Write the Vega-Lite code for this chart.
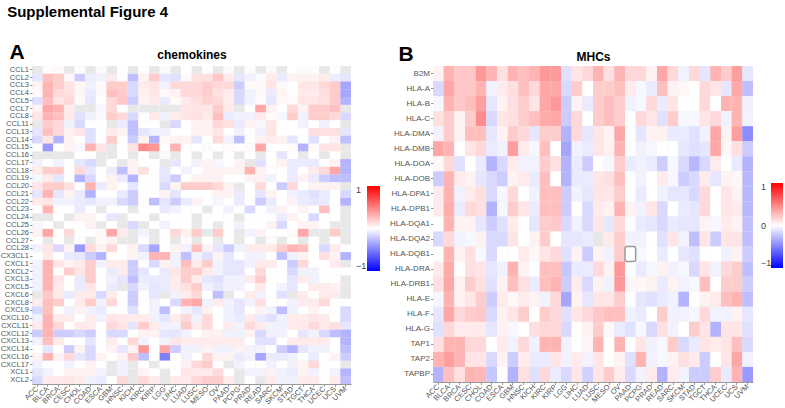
{
"$schema": "https://vega.github.io/schema/vega-lite/v6.json",
"background": "white",
"padding": {"left": 0, "top": 5, "right": 0, "bottom": 0},
"title": {"text": "Supplemental Figure 4", "anchor": "start", "frame": "bounds", "fontSize": 15, "font": "Liberation Sans", "fontWeight": "bold", "color": "#000", "offset": 21, "dx": 7},
"bounds": "flush",
"spacing": 82,
"datasets": {
"chem": [
{"g":"CCL1","t":"ACC","v":null},{"g":"CCL1","t":"BLCA","v":0.01},{"g":"CCL1","t":"BRCA","v":0.02},{"g":"CCL1","t":"CESC","v":null},{"g":"CCL1","t":"CHOL","v":0.01},{"g":"CCL1","t":"COAD","v":null},{"g":"CCL1","t":"ESCA","v":0.02},{"g":"CCL1","t":"GBM","v":null},{"g":"CCL1","t":"HNSC","v":0},{"g":"CCL1","t":"KICH","v":null},{"g":"CCL1","t":"KIRC","v":0.01},{"g":"CCL1","t":"KIRP","v":null},{"g":"CCL1","t":"LGG","v":0.02},{"g":"CCL1","t":"LIHC","v":null},{"g":"CCL1","t":"LUAD","v":0},{"g":"CCL1","t":"LUSC","v":null},{"g":"CCL1","t":"MESO","v":0.01},{"g":"CCL1","t":"OV","v":null},{"g":"CCL1","t":"PAAD","v":0.02},{"g":"CCL1","t":"PCPG","v":null},{"g":"CCL1","t":"PRAD","v":0.01},{"g":"CCL1","t":"READ","v":null},{"g":"CCL1","t":"SARC","v":0.02},{"g":"CCL1","t":"SKCM","v":null},{"g":"CCL1","t":"STAD","v":0},{"g":"CCL1","t":"TGCT","v":0.02},{"g":"CCL1","t":"THCA","v":0.01},{"g":"CCL1","t":"UCEC","v":null},{"g":"CCL1","t":"UCS","v":0.01},{"g":"CCL1","t":"UVM","v":null},
{"g":"CCL2","t":"ACC","v":-0.1},{"g":"CCL2","t":"BLCA","v":0.25},{"g":"CCL2","t":"BRCA","v":0.2},{"g":"CCL2","t":"CESC","v":0.03},{"g":"CCL2","t":"CHOL","v":-0.2},{"g":"CCL2","t":"COAD","v":-0.07},{"g":"CCL2","t":"ESCA","v":-0.05},{"g":"CCL2","t":"GBM","v":0.08},{"g":"CCL2","t":"HNSC","v":0},{"g":"CCL2","t":"KICH","v":-0.25},{"g":"CCL2","t":"KIRC","v":0.05},{"g":"CCL2","t":"KIRP","v":0.2},{"g":"CCL2","t":"LGG","v":-0.1},{"g":"CCL2","t":"LIHC","v":-0.12},{"g":"CCL2","t":"LUAD","v":0.02},{"g":"CCL2","t":"LUSC","v":0.12},{"g":"CCL2","t":"MESO","v":0.12},{"g":"CCL2","t":"OV","v":0.22},{"g":"CCL2","t":"PAAD","v":0.08},{"g":"CCL2","t":"PCPG","v":-0.1},{"g":"CCL2","t":"PRAD","v":-0.05},{"g":"CCL2","t":"READ","v":-0.02},{"g":"CCL2","t":"SARC","v":0.08},{"g":"CCL2","t":"SKCM","v":-0.08},{"g":"CCL2","t":"STAD","v":0.05},{"g":"CCL2","t":"TGCT","v":0.05},{"g":"CCL2","t":"THCA","v":0.05},{"g":"CCL2","t":"UCEC","v":0.08},{"g":"CCL2","t":"UCS","v":-0.07},{"g":"CCL2","t":"UVM","v":-0.1},
{"g":"CCL3","t":"ACC","v":0.05},{"g":"CCL3","t":"BLCA","v":0.3},{"g":"CCL3","t":"BRCA","v":0.2},{"g":"CCL3","t":"CESC","v":0.1},{"g":"CCL3","t":"CHOL","v":0.03},{"g":"CCL3","t":"COAD","v":-0.05},{"g":"CCL3","t":"ESCA","v":0.02},{"g":"CCL3","t":"GBM","v":0.2},{"g":"CCL3","t":"HNSC","v":0.2},{"g":"CCL3","t":"KICH","v":-0.15},{"g":"CCL3","t":"KIRC","v":0.08},{"g":"CCL3","t":"KIRP","v":0.1},{"g":"CCL3","t":"LGG","v":-0.05},{"g":"CCL3","t":"LIHC","v":0.15},{"g":"CCL3","t":"LUAD","v":0.15},{"g":"CCL3","t":"LUSC","v":0.15},{"g":"CCL3","t":"MESO","v":0.2},{"g":"CCL3","t":"OV","v":0.15},{"g":"CCL3","t":"PAAD","v":0.15},{"g":"CCL3","t":"PCPG","v":-0.2},{"g":"CCL3","t":"PRAD","v":0.02},{"g":"CCL3","t":"READ","v":0.02},{"g":"CCL3","t":"SARC","v":0.1},{"g":"CCL3","t":"SKCM","v":0.02},{"g":"CCL3","t":"STAD","v":0},{"g":"CCL3","t":"TGCT","v":0.1},{"g":"CCL3","t":"THCA","v":0.1},{"g":"CCL3","t":"UCEC","v":0.15},{"g":"CCL3","t":"UCS","v":0.2},{"g":"CCL3","t":"UVM","v":-0.35},
{"g":"CCL4","t":"ACC","v":0.02},{"g":"CCL4","t":"BLCA","v":0.3},{"g":"CCL4","t":"BRCA","v":0.15},{"g":"CCL4","t":"CESC","v":0.12},{"g":"CCL4","t":"CHOL","v":0.03},{"g":"CCL4","t":"COAD","v":-0.08},{"g":"CCL4","t":"ESCA","v":0.02},{"g":"CCL4","t":"GBM","v":0.25},{"g":"CCL4","t":"HNSC","v":0.2},{"g":"CCL4","t":"KICH","v":-0.15},{"g":"CCL4","t":"KIRC","v":0.05},{"g":"CCL4","t":"KIRP","v":0.1},{"g":"CCL4","t":"LGG","v":0.02},{"g":"CCL4","t":"LIHC","v":0.05},{"g":"CCL4","t":"LUAD","v":0.15},{"g":"CCL4","t":"LUSC","v":0.15},{"g":"CCL4","t":"MESO","v":0.2},{"g":"CCL4","t":"OV","v":0.12},{"g":"CCL4","t":"PAAD","v":0.08},{"g":"CCL4","t":"PCPG","v":-0.15},{"g":"CCL4","t":"PRAD","v":-0.05},{"g":"CCL4","t":"READ","v":0.02},{"g":"CCL4","t":"SARC","v":-0.08},{"g":"CCL4","t":"SKCM","v":0.05},{"g":"CCL4","t":"STAD","v":0},{"g":"CCL4","t":"TGCT","v":0.08},{"g":"CCL4","t":"THCA","v":0.08},{"g":"CCL4","t":"UCEC","v":0.12},{"g":"CCL4","t":"UCS","v":0.2},{"g":"CCL4","t":"UVM","v":-0.35},
{"g":"CCL5","t":"ACC","v":-0.12},{"g":"CCL5","t":"BLCA","v":0.25},{"g":"CCL5","t":"BRCA","v":0.1},{"g":"CCL5","t":"CESC","v":0.15},{"g":"CCL5","t":"CHOL","v":0.02},{"g":"CCL5","t":"COAD","v":-0.1},{"g":"CCL5","t":"ESCA","v":0},{"g":"CCL5","t":"GBM","v":0.15},{"g":"CCL5","t":"HNSC","v":0.22},{"g":"CCL5","t":"KICH","v":-0.2},{"g":"CCL5","t":"KIRC","v":0.05},{"g":"CCL5","t":"KIRP","v":0.08},{"g":"CCL5","t":"LGG","v":-0.08},{"g":"CCL5","t":"LIHC","v":0.02},{"g":"CCL5","t":"LUAD","v":0.08},{"g":"CCL5","t":"LUSC","v":0.12},{"g":"CCL5","t":"MESO","v":0.18},{"g":"CCL5","t":"OV","v":0.15},{"g":"CCL5","t":"PAAD","v":0.08},{"g":"CCL5","t":"PCPG","v":-0.15},{"g":"CCL5","t":"PRAD","v":-0.05},{"g":"CCL5","t":"READ","v":0.02},{"g":"CCL5","t":"SARC","v":-0.1},{"g":"CCL5","t":"SKCM","v":0.02},{"g":"CCL5","t":"STAD","v":0.02},{"g":"CCL5","t":"TGCT","v":0.1},{"g":"CCL5","t":"THCA","v":0.1},{"g":"CCL5","t":"UCEC","v":0.12},{"g":"CCL5","t":"UCS","v":0.2},{"g":"CCL5","t":"UVM","v":-0.3},
{"g":"CCL7","t":"ACC","v":0.05},{"g":"CCL7","t":"BLCA","v":0.35},{"g":"CCL7","t":"BRCA","v":0.3},{"g":"CCL7","t":"CESC","v":0.08},{"g":"CCL7","t":"CHOL","v":null},{"g":"CCL7","t":"COAD","v":null},{"g":"CCL7","t":"ESCA","v":-0.03},{"g":"CCL7","t":"GBM","v":0.15},{"g":"CCL7","t":"HNSC","v":0},{"g":"CCL7","t":"KICH","v":null},{"g":"CCL7","t":"KIRC","v":null},{"g":"CCL7","t":"KIRP","v":null},{"g":"CCL7","t":"LGG","v":null},{"g":"CCL7","t":"LIHC","v":null},{"g":"CCL7","t":"LUAD","v":0.1},{"g":"CCL7","t":"LUSC","v":0.1},{"g":"CCL7","t":"MESO","v":0.1},{"g":"CCL7","t":"OV","v":0.2},{"g":"CCL7","t":"PAAD","v":0.08},{"g":"CCL7","t":"PCPG","v":null},{"g":"CCL7","t":"PRAD","v":0},{"g":"CCL7","t":"READ","v":0.35},{"g":"CCL7","t":"SARC","v":0.05},{"g":"CCL7","t":"SKCM","v":0},{"g":"CCL7","t":"STAD","v":0.15},{"g":"CCL7","t":"TGCT","v":0.05},{"g":"CCL7","t":"THCA","v":0.2},{"g":"CCL7","t":"UCEC","v":0.2},{"g":"CCL7","t":"UCS","v":0.25},{"g":"CCL7","t":"UVM","v":null},
{"g":"CCL8","t":"ACC","v":0.1},{"g":"CCL8","t":"BLCA","v":0.3},{"g":"CCL8","t":"BRCA","v":0.25},{"g":"CCL8","t":"CESC","v":0.08},{"g":"CCL8","t":"CHOL","v":-0.12},{"g":"CCL8","t":"COAD","v":-0.05},{"g":"CCL8","t":"ESCA","v":-0.02},{"g":"CCL8","t":"GBM","v":0.2},{"g":"CCL8","t":"HNSC","v":0.15},{"g":"CCL8","t":"KICH","v":-0.15},{"g":"CCL8","t":"KIRC","v":0},{"g":"CCL8","t":"KIRP","v":0.08},{"g":"CCL8","t":"LGG","v":-0.05},{"g":"CCL8","t":"LIHC","v":0.08},{"g":"CCL8","t":"LUAD","v":0.1},{"g":"CCL8","t":"LUSC","v":0.12},{"g":"CCL8","t":"MESO","v":0.08},{"g":"CCL8","t":"OV","v":0.25},{"g":"CCL8","t":"PAAD","v":-0.08},{"g":"CCL8","t":"PCPG","v":-0.05},{"g":"CCL8","t":"PRAD","v":-0.05},{"g":"CCL8","t":"READ","v":0.08},{"g":"CCL8","t":"SARC","v":0.02},{"g":"CCL8","t":"SKCM","v":-0.03},{"g":"CCL8","t":"STAD","v":0.2},{"g":"CCL8","t":"TGCT","v":-0.05},{"g":"CCL8","t":"THCA","v":0.2},{"g":"CCL8","t":"UCEC","v":0.2},{"g":"CCL8","t":"UCS","v":0.15},{"g":"CCL8","t":"UVM","v":-0.15},
{"g":"CCL11","t":"ACC","v":null},{"g":"CCL11","t":"BLCA","v":0.2},{"g":"CCL11","t":"BRCA","v":0.15},{"g":"CCL11","t":"CESC","v":-0.05},{"g":"CCL11","t":"CHOL","v":-0.15},{"g":"CCL11","t":"COAD","v":0},{"g":"CCL11","t":"ESCA","v":0},{"g":"CCL11","t":"GBM","v":null},{"g":"CCL11","t":"HNSC","v":-0.08},{"g":"CCL11","t":"KICH","v":-0.25},{"g":"CCL11","t":"KIRC","v":0},{"g":"CCL11","t":"KIRP","v":0},{"g":"CCL11","t":"LGG","v":null},{"g":"CCL11","t":"LIHC","v":-0.15},{"g":"CCL11","t":"LUAD","v":0},{"g":"CCL11","t":"LUSC","v":0.05},{"g":"CCL11","t":"MESO","v":0.05},{"g":"CCL11","t":"OV","v":0.15},{"g":"CCL11","t":"PAAD","v":0.12},{"g":"CCL11","t":"PCPG","v":-0.08},{"g":"CCL11","t":"PRAD","v":0.05},{"g":"CCL11","t":"READ","v":-0.03},{"g":"CCL11","t":"SARC","v":0.1},{"g":"CCL11","t":"SKCM","v":0},{"g":"CCL11","t":"STAD","v":0},{"g":"CCL11","t":"TGCT","v":-0.05},{"g":"CCL11","t":"THCA","v":0},{"g":"CCL11","t":"UCEC","v":-0.05},{"g":"CCL11","t":"UCS","v":0},{"g":"CCL11","t":"UVM","v":null},
{"g":"CCL13","t":"ACC","v":-0.1},{"g":"CCL13","t":"BLCA","v":0.25},{"g":"CCL13","t":"BRCA","v":0.15},{"g":"CCL13","t":"CESC","v":0.05},{"g":"CCL13","t":"CHOL","v":0.1},{"g":"CCL13","t":"COAD","v":-0.12},{"g":"CCL13","t":"ESCA","v":0},{"g":"CCL13","t":"GBM","v":0.08},{"g":"CCL13","t":"HNSC","v":0.05},{"g":"CCL13","t":"KICH","v":-0.25},{"g":"CCL13","t":"KIRC","v":-0.1},{"g":"CCL13","t":"KIRP","v":-0.05},{"g":"CCL13","t":"LGG","v":-0.05},{"g":"CCL13","t":"LIHC","v":0},{"g":"CCL13","t":"LUAD","v":0},{"g":"CCL13","t":"LUSC","v":0.05},{"g":"CCL13","t":"MESO","v":0.05},{"g":"CCL13","t":"OV","v":0.1},{"g":"CCL13","t":"PAAD","v":0},{"g":"CCL13","t":"PCPG","v":-0.05},{"g":"CCL13","t":"PRAD","v":0},{"g":"CCL13","t":"READ","v":-0.05},{"g":"CCL13","t":"SARC","v":0.1},{"g":"CCL13","t":"SKCM","v":0},{"g":"CCL13","t":"STAD","v":0},{"g":"CCL13","t":"TGCT","v":0},{"g":"CCL13","t":"THCA","v":0.12},{"g":"CCL13","t":"UCEC","v":0.12},{"g":"CCL13","t":"UCS","v":0.12},{"g":"CCL13","t":"UVM","v":-0.1},
{"g":"CCL14","t":"ACC","v":-0.15},{"g":"CCL14","t":"BLCA","v":0.1},{"g":"CCL14","t":"BRCA","v":-0.3},{"g":"CCL14","t":"CESC","v":0.05},{"g":"CCL14","t":"CHOL","v":0},{"g":"CCL14","t":"COAD","v":-0.12},{"g":"CCL14","t":"ESCA","v":0},{"g":"CCL14","t":"GBM","v":0.2},{"g":"CCL14","t":"HNSC","v":0},{"g":"CCL14","t":"KICH","v":-0.2},{"g":"CCL14","t":"KIRC","v":0.05},{"g":"CCL14","t":"KIRP","v":-0.3},{"g":"CCL14","t":"LGG","v":0.02},{"g":"CCL14","t":"LIHC","v":0.05},{"g":"CCL14","t":"LUAD","v":0.05},{"g":"CCL14","t":"LUSC","v":-0.1},{"g":"CCL14","t":"MESO","v":0},{"g":"CCL14","t":"OV","v":0.15},{"g":"CCL14","t":"PAAD","v":-0.05},{"g":"CCL14","t":"PCPG","v":-0.25},{"g":"CCL14","t":"PRAD","v":0},{"g":"CCL14","t":"READ","v":0.05},{"g":"CCL14","t":"SARC","v":0.08},{"g":"CCL14","t":"SKCM","v":0.05},{"g":"CCL14","t":"STAD","v":-0.1},{"g":"CCL14","t":"TGCT","v":0},{"g":"CCL14","t":"THCA","v":-0.12},{"g":"CCL14","t":"UCEC","v":0},{"g":"CCL14","t":"UCS","v":0.05},{"g":"CCL14","t":"UVM","v":-0.25},
{"g":"CCL15","t":"ACC","v":0},{"g":"CCL15","t":"BLCA","v":-0.4},{"g":"CCL15","t":"BRCA","v":0},{"g":"CCL15","t":"CESC","v":0.05},{"g":"CCL15","t":"CHOL","v":-0.03},{"g":"CCL15","t":"COAD","v":0.3},{"g":"CCL15","t":"ESCA","v":0.1},{"g":"CCL15","t":"GBM","v":null},{"g":"CCL15","t":"HNSC","v":0},{"g":"CCL15","t":"KICH","v":0.1},{"g":"CCL15","t":"KIRC","v":0.45},{"g":"CCL15","t":"KIRP","v":0.4},{"g":"CCL15","t":"LGG","v":0},{"g":"CCL15","t":"LIHC","v":0.3},{"g":"CCL15","t":"LUAD","v":0},{"g":"CCL15","t":"LUSC","v":0},{"g":"CCL15","t":"MESO","v":0.02},{"g":"CCL15","t":"OV","v":0},{"g":"CCL15","t":"PAAD","v":0.02},{"g":"CCL15","t":"PCPG","v":0},{"g":"CCL15","t":"PRAD","v":0.02},{"g":"CCL15","t":"READ","v":0.35},{"g":"CCL15","t":"SARC","v":0},{"g":"CCL15","t":"SKCM","v":0},{"g":"CCL15","t":"STAD","v":0.02},{"g":"CCL15","t":"TGCT","v":-0.3},{"g":"CCL15","t":"THCA","v":0.02},{"g":"CCL15","t":"UCEC","v":0.1},{"g":"CCL15","t":"UCS","v":0.1},{"g":"CCL15","t":"UVM","v":null},
{"g":"CCL16","t":"ACC","v":null},{"g":"CCL16","t":"BLCA","v":null},{"g":"CCL16","t":"BRCA","v":null},{"g":"CCL16","t":"CESC","v":null},{"g":"CCL16","t":"CHOL","v":0},{"g":"CCL16","t":"COAD","v":0},{"g":"CCL16","t":"ESCA","v":null},{"g":"CCL16","t":"GBM","v":null},{"g":"CCL16","t":"HNSC","v":0},{"g":"CCL16","t":"KICH","v":null},{"g":"CCL16","t":"KIRC","v":0},{"g":"CCL16","t":"KIRP","v":null},{"g":"CCL16","t":"LGG","v":0.02},{"g":"CCL16","t":"LIHC","v":null},{"g":"CCL16","t":"LUAD","v":0},{"g":"CCL16","t":"LUSC","v":null},{"g":"CCL16","t":"MESO","v":0},{"g":"CCL16","t":"OV","v":null},{"g":"CCL16","t":"PAAD","v":0},{"g":"CCL16","t":"PCPG","v":null},{"g":"CCL16","t":"PRAD","v":0},{"g":"CCL16","t":"READ","v":null},{"g":"CCL16","t":"SARC","v":0},{"g":"CCL16","t":"SKCM","v":-0.1},{"g":"CCL16","t":"STAD","v":0},{"g":"CCL16","t":"TGCT","v":null},{"g":"CCL16","t":"THCA","v":0},{"g":"CCL16","t":"UCEC","v":null},{"g":"CCL16","t":"UCS","v":0},{"g":"CCL16","t":"UVM","v":null},
{"g":"CCL17","t":"ACC","v":-0.05},{"g":"CCL17","t":"BLCA","v":0},{"g":"CCL17","t":"BRCA","v":-0.05},{"g":"CCL17","t":"CESC","v":0},{"g":"CCL17","t":"CHOL","v":-0.1},{"g":"CCL17","t":"COAD","v":-0.15},{"g":"CCL17","t":"ESCA","v":null},{"g":"CCL17","t":"GBM","v":0},{"g":"CCL17","t":"HNSC","v":null},{"g":"CCL17","t":"KICH","v":0.05},{"g":"CCL17","t":"KIRC","v":0},{"g":"CCL17","t":"KIRP","v":0},{"g":"CCL17","t":"LGG","v":null},{"g":"CCL17","t":"LIHC","v":-0.1},{"g":"CCL17","t":"LUAD","v":0},{"g":"CCL17","t":"LUSC","v":-0.05},{"g":"CCL17","t":"MESO","v":0.05},{"g":"CCL17","t":"OV","v":-0.03},{"g":"CCL17","t":"PAAD","v":0},{"g":"CCL17","t":"PCPG","v":0.05},{"g":"CCL17","t":"PRAD","v":null},{"g":"CCL17","t":"READ","v":-0.12},{"g":"CCL17","t":"SARC","v":0},{"g":"CCL17","t":"SKCM","v":0.05},{"g":"CCL17","t":"STAD","v":-0.08},{"g":"CCL17","t":"TGCT","v":-0.08},{"g":"CCL17","t":"THCA","v":-0.08},{"g":"CCL17","t":"UCEC","v":0},{"g":"CCL17","t":"UCS","v":0.05},{"g":"CCL17","t":"UVM","v":-0.3},
{"g":"CCL18","t":"ACC","v":0.08},{"g":"CCL18","t":"BLCA","v":0.2},{"g":"CCL18","t":"BRCA","v":0.2},{"g":"CCL18","t":"CESC","v":0},{"g":"CCL18","t":"CHOL","v":0.15},{"g":"CCL18","t":"COAD","v":-0.1},{"g":"CCL18","t":"ESCA","v":0},{"g":"CCL18","t":"GBM","v":-0.08},{"g":"CCL18","t":"HNSC","v":-0.25},{"g":"CCL18","t":"KICH","v":0.05},{"g":"CCL18","t":"KIRC","v":0.12},{"g":"CCL18","t":"KIRP","v":0},{"g":"CCL18","t":"LGG","v":-0.1},{"g":"CCL18","t":"LIHC","v":0},{"g":"CCL18","t":"LUAD","v":-0.05},{"g":"CCL18","t":"LUSC","v":0},{"g":"CCL18","t":"MESO","v":0.05},{"g":"CCL18","t":"OV","v":0.05},{"g":"CCL18","t":"PAAD","v":0.05},{"g":"CCL18","t":"PCPG","v":0.05},{"g":"CCL18","t":"PRAD","v":0.3},{"g":"CCL18","t":"READ","v":0.05},{"g":"CCL18","t":"SARC","v":0},{"g":"CCL18","t":"SKCM","v":0},{"g":"CCL18","t":"STAD","v":-0.08},{"g":"CCL18","t":"TGCT","v":0},{"g":"CCL18","t":"THCA","v":0.08},{"g":"CCL18","t":"UCEC","v":0.15},{"g":"CCL18","t":"UCS","v":0.35},{"g":"CCL18","t":"UVM","v":-0.3},
{"g":"CCL19","t":"ACC","v":-0.03},{"g":"CCL19","t":"BLCA","v":0.08},{"g":"CCL19","t":"BRCA","v":-0.1},{"g":"CCL19","t":"CESC","v":0},{"g":"CCL19","t":"CHOL","v":-0.3},{"g":"CCL19","t":"COAD","v":-0.15},{"g":"CCL19","t":"ESCA","v":0},{"g":"CCL19","t":"GBM","v":0.05},{"g":"CCL19","t":"HNSC","v":-0.08},{"g":"CCL19","t":"KICH","v":-0.3},{"g":"CCL19","t":"KIRC","v":0},{"g":"CCL19","t":"KIRP","v":0},{"g":"CCL19","t":"LGG","v":-0.1},{"g":"CCL19","t":"LIHC","v":-0.2},{"g":"CCL19","t":"LUAD","v":0},{"g":"CCL19","t":"LUSC","v":0.05},{"g":"CCL19","t":"MESO","v":0.05},{"g":"CCL19","t":"OV","v":0.05},{"g":"CCL19","t":"PAAD","v":0},{"g":"CCL19","t":"PCPG","v":0},{"g":"CCL19","t":"PRAD","v":0.05},{"g":"CCL19","t":"READ","v":0.05},{"g":"CCL19","t":"SARC","v":-0.05},{"g":"CCL19","t":"SKCM","v":0},{"g":"CCL19","t":"STAD","v":-0.08},{"g":"CCL19","t":"TGCT","v":0.05},{"g":"CCL19","t":"THCA","v":-0.08},{"g":"CCL19","t":"UCEC","v":-0.2},{"g":"CCL19","t":"UCS","v":-0.25},{"g":"CCL19","t":"UVM","v":-0.25},
{"g":"CCL20","t":"ACC","v":0.1},{"g":"CCL20","t":"BLCA","v":0.2},{"g":"CCL20","t":"BRCA","v":0.2},{"g":"CCL20","t":"CESC","v":0.12},{"g":"CCL20","t":"CHOL","v":0},{"g":"CCL20","t":"COAD","v":0.3},{"g":"CCL20","t":"ESCA","v":-0.08},{"g":"CCL20","t":"GBM","v":0.05},{"g":"CCL20","t":"HNSC","v":0},{"g":"CCL20","t":"KICH","v":-0.1},{"g":"CCL20","t":"KIRC","v":0},{"g":"CCL20","t":"KIRP","v":0},{"g":"CCL20","t":"LGG","v":-0.15},{"g":"CCL20","t":"LIHC","v":0.05},{"g":"CCL20","t":"LUAD","v":0.2},{"g":"CCL20","t":"LUSC","v":0.2},{"g":"CCL20","t":"MESO","v":0.2},{"g":"CCL20","t":"OV","v":0.15},{"g":"CCL20","t":"PAAD","v":0.05},{"g":"CCL20","t":"PCPG","v":null},{"g":"CCL20","t":"PRAD","v":0},{"g":"CCL20","t":"READ","v":0.15},{"g":"CCL20","t":"SARC","v":0},{"g":"CCL20","t":"SKCM","v":-0.2},{"g":"CCL20","t":"STAD","v":0.15},{"g":"CCL20","t":"TGCT","v":0},{"g":"CCL20","t":"THCA","v":0.05},{"g":"CCL20","t":"UCEC","v":0.05},{"g":"CCL20","t":"UCS","v":0.05},{"g":"CCL20","t":"UVM","v":null},
{"g":"CCL21","t":"ACC","v":-0.1},{"g":"CCL21","t":"BLCA","v":0.3},{"g":"CCL21","t":"BRCA","v":-0.1},{"g":"CCL21","t":"CESC","v":0.05},{"g":"CCL21","t":"CHOL","v":-0.08},{"g":"CCL21","t":"COAD","v":-0.3},{"g":"CCL21","t":"ESCA","v":0},{"g":"CCL21","t":"GBM","v":0},{"g":"CCL21","t":"HNSC","v":-0.08},{"g":"CCL21","t":"KICH","v":-0.2},{"g":"CCL21","t":"KIRC","v":0},{"g":"CCL21","t":"KIRP","v":0},{"g":"CCL21","t":"LGG","v":0.05},{"g":"CCL21","t":"LIHC","v":-0.1},{"g":"CCL21","t":"LUAD","v":0},{"g":"CCL21","t":"LUSC","v":0},{"g":"CCL21","t":"MESO","v":0},{"g":"CCL21","t":"OV","v":0.05},{"g":"CCL21","t":"PAAD","v":0.05},{"g":"CCL21","t":"PCPG","v":-0.08},{"g":"CCL21","t":"PRAD","v":0},{"g":"CCL21","t":"READ","v":-0.1},{"g":"CCL21","t":"SARC","v":0.05},{"g":"CCL21","t":"SKCM","v":0},{"g":"CCL21","t":"STAD","v":-0.05},{"g":"CCL21","t":"TGCT","v":-0.08},{"g":"CCL21","t":"THCA","v":-0.12},{"g":"CCL21","t":"UCEC","v":-0.08},{"g":"CCL21","t":"UCS","v":0},{"g":"CCL21","t":"UVM","v":-0.15},
{"g":"CCL22","t":"ACC","v":0.08},{"g":"CCL22","t":"BLCA","v":0.1},{"g":"CCL22","t":"BRCA","v":-0.05},{"g":"CCL22","t":"CESC","v":-0.05},{"g":"CCL22","t":"CHOL","v":-0.08},{"g":"CCL22","t":"COAD","v":-0.1},{"g":"CCL22","t":"ESCA","v":-0.05},{"g":"CCL22","t":"GBM","v":-0.05},{"g":"CCL22","t":"HNSC","v":-0.15},{"g":"CCL22","t":"KICH","v":-0.2},{"g":"CCL22","t":"KIRC","v":0},{"g":"CCL22","t":"KIRP","v":-0.25},{"g":"CCL22","t":"LGG","v":-0.1},{"g":"CCL22","t":"LIHC","v":-0.2},{"g":"CCL22","t":"LUAD","v":-0.08},{"g":"CCL22","t":"LUSC","v":0.05},{"g":"CCL22","t":"MESO","v":0},{"g":"CCL22","t":"OV","v":-0.03},{"g":"CCL22","t":"PAAD","v":0},{"g":"CCL22","t":"PCPG","v":-0.08},{"g":"CCL22","t":"PRAD","v":0},{"g":"CCL22","t":"READ","v":-0.2},{"g":"CCL22","t":"SARC","v":-0.08},{"g":"CCL22","t":"SKCM","v":0},{"g":"CCL22","t":"STAD","v":0.05},{"g":"CCL22","t":"TGCT","v":-0.08},{"g":"CCL22","t":"THCA","v":-0.1},{"g":"CCL22","t":"UCEC","v":-0.08},{"g":"CCL22","t":"UCS","v":0},{"g":"CCL22","t":"UVM","v":-0.3},
{"g":"CCL23","t":"ACC","v":0},{"g":"CCL23","t":"BLCA","v":0.3},{"g":"CCL23","t":"BRCA","v":0},{"g":"CCL23","t":"CESC","v":0},{"g":"CCL23","t":"CHOL","v":-0.08},{"g":"CCL23","t":"COAD","v":0},{"g":"CCL23","t":"ESCA","v":null},{"g":"CCL23","t":"GBM","v":0},{"g":"CCL23","t":"HNSC","v":0},{"g":"CCL23","t":"KICH","v":null},{"g":"CCL23","t":"KIRC","v":0},{"g":"CCL23","t":"KIRP","v":0},{"g":"CCL23","t":"LGG","v":-0.08},{"g":"CCL23","t":"LIHC","v":-0.05},{"g":"CCL23","t":"LUAD","v":0},{"g":"CCL23","t":"LUSC","v":0},{"g":"CCL23","t":"MESO","v":null},{"g":"CCL23","t":"OV","v":0},{"g":"CCL23","t":"PAAD","v":-0.05},{"g":"CCL23","t":"PCPG","v":0},{"g":"CCL23","t":"PRAD","v":-0.15},{"g":"CCL23","t":"READ","v":0},{"g":"CCL23","t":"SARC","v":-0.05},{"g":"CCL23","t":"SKCM","v":0.05},{"g":"CCL23","t":"STAD","v":0},{"g":"CCL23","t":"TGCT","v":0.05},{"g":"CCL23","t":"THCA","v":0},{"g":"CCL23","t":"UCEC","v":0.25},{"g":"CCL23","t":"UCS","v":0},{"g":"CCL23","t":"UVM","v":null},
{"g":"CCL24","t":"ACC","v":null},{"g":"CCL24","t":"BLCA","v":null},{"g":"CCL24","t":"BRCA","v":0},{"g":"CCL24","t":"CESC","v":null},{"g":"CCL24","t":"CHOL","v":0.05},{"g":"CCL24","t":"COAD","v":0.05},{"g":"CCL24","t":"ESCA","v":0},{"g":"CCL24","t":"GBM","v":-0.1},{"g":"CCL24","t":"HNSC","v":null},{"g":"CCL24","t":"KICH","v":0},{"g":"CCL24","t":"KIRC","v":0},{"g":"CCL24","t":"KIRP","v":null},{"g":"CCL24","t":"LGG","v":0},{"g":"CCL24","t":"LIHC","v":0},{"g":"CCL24","t":"LUAD","v":0},{"g":"CCL24","t":"LUSC","v":null},{"g":"CCL24","t":"MESO","v":0},{"g":"CCL24","t":"OV","v":0},{"g":"CCL24","t":"PAAD","v":0},{"g":"CCL24","t":"PCPG","v":null},{"g":"CCL24","t":"PRAD","v":0},{"g":"CCL24","t":"READ","v":0},{"g":"CCL24","t":"SARC","v":0},{"g":"CCL24","t":"SKCM","v":-0.08},{"g":"CCL24","t":"STAD","v":0.05},{"g":"CCL24","t":"TGCT","v":0},{"g":"CCL24","t":"THCA","v":-0.15},{"g":"CCL24","t":"UCEC","v":0},{"g":"CCL24","t":"UCS","v":0},{"g":"CCL24","t":"UVM","v":null},
{"g":"CCL25","t":"ACC","v":-0.03},{"g":"CCL25","t":"BLCA","v":0},{"g":"CCL25","t":"BRCA","v":null},{"g":"CCL25","t":"CESC","v":0},{"g":"CCL25","t":"CHOL","v":0},{"g":"CCL25","t":"COAD","v":0.05},{"g":"CCL25","t":"ESCA","v":null},{"g":"CCL25","t":"GBM","v":0},{"g":"CCL25","t":"HNSC","v":null},{"g":"CCL25","t":"KICH","v":-0.15},{"g":"CCL25","t":"KIRC","v":null},{"g":"CCL25","t":"KIRP","v":0},{"g":"CCL25","t":"LGG","v":-0.05},{"g":"CCL25","t":"LIHC","v":0},{"g":"CCL25","t":"LUAD","v":0},{"g":"CCL25","t":"LUSC","v":null},{"g":"CCL25","t":"MESO","v":0},{"g":"CCL25","t":"OV","v":null},{"g":"CCL25","t":"PAAD","v":0},{"g":"CCL25","t":"PCPG","v":-0.05},{"g":"CCL25","t":"PRAD","v":0},{"g":"CCL25","t":"READ","v":0},{"g":"CCL25","t":"SARC","v":0.05},{"g":"CCL25","t":"SKCM","v":-0.15},{"g":"CCL25","t":"STAD","v":0},{"g":"CCL25","t":"TGCT","v":0.05},{"g":"CCL25","t":"THCA","v":0.05},{"g":"CCL25","t":"UCEC","v":0},{"g":"CCL25","t":"UCS","v":null},{"g":"CCL25","t":"UVM","v":null},
{"g":"CCL26","t":"ACC","v":0.05},{"g":"CCL26","t":"BLCA","v":0.35},{"g":"CCL26","t":"BRCA","v":0},{"g":"CCL26","t":"CESC","v":0.15},{"g":"CCL26","t":"CHOL","v":0},{"g":"CCL26","t":"COAD","v":0},{"g":"CCL26","t":"ESCA","v":0.02},{"g":"CCL26","t":"GBM","v":0.35},{"g":"CCL26","t":"HNSC","v":0.08},{"g":"CCL26","t":"KICH","v":null},{"g":"CCL26","t":"KIRC","v":-0.05},{"g":"CCL26","t":"KIRP","v":null},{"g":"CCL26","t":"LGG","v":0},{"g":"CCL26","t":"LIHC","v":0.15},{"g":"CCL26","t":"LUAD","v":0.05},{"g":"CCL26","t":"LUSC","v":0.2},{"g":"CCL26","t":"MESO","v":null},{"g":"CCL26","t":"OV","v":0.2},{"g":"CCL26","t":"PAAD","v":0},{"g":"CCL26","t":"PCPG","v":null},{"g":"CCL26","t":"PRAD","v":-0.05},{"g":"CCL26","t":"READ","v":0.05},{"g":"CCL26","t":"SARC","v":0},{"g":"CCL26","t":"SKCM","v":0},{"g":"CCL26","t":"STAD","v":0.02},{"g":"CCL26","t":"TGCT","v":0.35},{"g":"CCL26","t":"THCA","v":null},{"g":"CCL26","t":"UCEC","v":null},{"g":"CCL26","t":"UCS","v":0.2},{"g":"CCL26","t":"UVM","v":null},
{"g":"CCL27","t":"ACC","v":0},{"g":"CCL27","t":"BLCA","v":null},{"g":"CCL27","t":"BRCA","v":0},{"g":"CCL27","t":"CESC","v":null},{"g":"CCL27","t":"CHOL","v":0},{"g":"CCL27","t":"COAD","v":null},{"g":"CCL27","t":"ESCA","v":0.02},{"g":"CCL27","t":"GBM","v":0.05},{"g":"CCL27","t":"HNSC","v":null},{"g":"CCL27","t":"KICH","v":null},{"g":"CCL27","t":"KIRC","v":0},{"g":"CCL27","t":"KIRP","v":null},{"g":"CCL27","t":"LGG","v":0},{"g":"CCL27","t":"LIHC","v":null},{"g":"CCL27","t":"LUAD","v":0.02},{"g":"CCL27","t":"LUSC","v":null},{"g":"CCL27","t":"MESO","v":0},{"g":"CCL27","t":"OV","v":null},{"g":"CCL27","t":"PAAD","v":0},{"g":"CCL27","t":"PCPG","v":null},{"g":"CCL27","t":"PRAD","v":0},{"g":"CCL27","t":"READ","v":null},{"g":"CCL27","t":"SARC","v":0.02},{"g":"CCL27","t":"SKCM","v":null},{"g":"CCL27","t":"STAD","v":0},{"g":"CCL27","t":"TGCT","v":null},{"g":"CCL27","t":"THCA","v":0},{"g":"CCL27","t":"UCEC","v":null},{"g":"CCL27","t":"UCS","v":0},{"g":"CCL27","t":"UVM","v":null},
{"g":"CCL28","t":"ACC","v":-0.05},{"g":"CCL28","t":"BLCA","v":0.1},{"g":"CCL28","t":"BRCA","v":-0.15},{"g":"CCL28","t":"CESC","v":0.05},{"g":"CCL28","t":"CHOL","v":-0.4},{"g":"CCL28","t":"COAD","v":0.15},{"g":"CCL28","t":"ESCA","v":0.05},{"g":"CCL28","t":"GBM","v":0.15},{"g":"CCL28","t":"HNSC","v":0},{"g":"CCL28","t":"KICH","v":0.05},{"g":"CCL28","t":"KIRC","v":-0.15},{"g":"CCL28","t":"KIRP","v":-0.35},{"g":"CCL28","t":"LGG","v":0},{"g":"CCL28","t":"LIHC","v":0.05},{"g":"CCL28","t":"LUAD","v":-0.05},{"g":"CCL28","t":"LUSC","v":0.25},{"g":"CCL28","t":"MESO","v":0.05},{"g":"CCL28","t":"OV","v":-0.1},{"g":"CCL28","t":"PAAD","v":-0.2},{"g":"CCL28","t":"PCPG","v":-0.05},{"g":"CCL28","t":"PRAD","v":0.08},{"g":"CCL28","t":"READ","v":0.08},{"g":"CCL28","t":"SARC","v":0.08},{"g":"CCL28","t":"SKCM","v":0.2},{"g":"CCL28","t":"STAD","v":0.3},{"g":"CCL28","t":"TGCT","v":0.25},{"g":"CCL28","t":"THCA","v":0},{"g":"CCL28","t":"UCEC","v":-0.15},{"g":"CCL28","t":"UCS","v":0.08},{"g":"CCL28","t":"UVM","v":0},
{"g":"CX3CL1","t":"ACC","v":0},{"g":"CX3CL1","t":"BLCA","v":0.08},{"g":"CX3CL1","t":"BRCA","v":0},{"g":"CX3CL1","t":"CESC","v":-0.08},{"g":"CX3CL1","t":"CHOL","v":-0.1},{"g":"CX3CL1","t":"COAD","v":-0.2},{"g":"CX3CL1","t":"ESCA","v":-0.3},{"g":"CX3CL1","t":"GBM","v":0},{"g":"CX3CL1","t":"HNSC","v":0},{"g":"CX3CL1","t":"KICH","v":0.05},{"g":"CX3CL1","t":"KIRC","v":-0.05},{"g":"CX3CL1","t":"KIRP","v":0.3},{"g":"CX3CL1","t":"LGG","v":0.3},{"g":"CX3CL1","t":"LIHC","v":-0.05},{"g":"CX3CL1","t":"LUAD","v":-0.25},{"g":"CX3CL1","t":"LUSC","v":-0.05},{"g":"CX3CL1","t":"MESO","v":-0.12},{"g":"CX3CL1","t":"OV","v":0.05},{"g":"CX3CL1","t":"PAAD","v":-0.1},{"g":"CX3CL1","t":"PCPG","v":0},{"g":"CX3CL1","t":"PRAD","v":-0.05},{"g":"CX3CL1","t":"READ","v":-0.05},{"g":"CX3CL1","t":"SARC","v":0},{"g":"CX3CL1","t":"SKCM","v":-0.25},{"g":"CX3CL1","t":"STAD","v":-0.05},{"g":"CX3CL1","t":"TGCT","v":0.05},{"g":"CX3CL1","t":"THCA","v":0},{"g":"CX3CL1","t":"UCEC","v":0.12},{"g":"CX3CL1","t":"UCS","v":0.05},{"g":"CX3CL1","t":"UVM","v":-0.3},
{"g":"CXCL1","t":"ACC","v":-0.05},{"g":"CXCL1","t":"BLCA","v":0.3},{"g":"CXCL1","t":"BRCA","v":0.1},{"g":"CXCL1","t":"CESC","v":0.05},{"g":"CXCL1","t":"CHOL","v":0.08},{"g":"CXCL1","t":"COAD","v":0.2},{"g":"CXCL1","t":"ESCA","v":-0.05},{"g":"CXCL1","t":"GBM","v":0.08},{"g":"CXCL1","t":"HNSC","v":0.08},{"g":"CXCL1","t":"KICH","v":-0.2},{"g":"CXCL1","t":"KIRC","v":0},{"g":"CXCL1","t":"KIRP","v":-0.15},{"g":"CXCL1","t":"LGG","v":0.05},{"g":"CXCL1","t":"LIHC","v":-0.05},{"g":"CXCL1","t":"LUAD","v":0.25},{"g":"CXCL1","t":"LUSC","v":0.08},{"g":"CXCL1","t":"MESO","v":0.2},{"g":"CXCL1","t":"OV","v":-0.05},{"g":"CXCL1","t":"PAAD","v":-0.1},{"g":"CXCL1","t":"PCPG","v":-0.1},{"g":"CXCL1","t":"PRAD","v":-0.05},{"g":"CXCL1","t":"READ","v":0.08},{"g":"CXCL1","t":"SARC","v":0.08},{"g":"CXCL1","t":"SKCM","v":0},{"g":"CXCL1","t":"STAD","v":-0.2},{"g":"CXCL1","t":"TGCT","v":0.15},{"g":"CXCL1","t":"THCA","v":0},{"g":"CXCL1","t":"UCEC","v":0},{"g":"CXCL1","t":"UCS","v":0.08},{"g":"CXCL1","t":"UVM","v":null},
{"g":"CXCL2","t":"ACC","v":-0.05},{"g":"CXCL2","t":"BLCA","v":0.3},{"g":"CXCL2","t":"BRCA","v":0},{"g":"CXCL2","t":"CESC","v":0.2},{"g":"CXCL2","t":"CHOL","v":0.1},{"g":"CXCL2","t":"COAD","v":0.2},{"g":"CXCL2","t":"ESCA","v":0},{"g":"CXCL2","t":"GBM","v":-0.08},{"g":"CXCL2","t":"HNSC","v":0.08},{"g":"CXCL2","t":"KICH","v":-0.2},{"g":"CXCL2","t":"KIRC","v":-0.1},{"g":"CXCL2","t":"KIRP","v":0},{"g":"CXCL2","t":"LGG","v":-0.08},{"g":"CXCL2","t":"LIHC","v":0.1},{"g":"CXCL2","t":"LUAD","v":0.2},{"g":"CXCL2","t":"LUSC","v":0.2},{"g":"CXCL2","t":"MESO","v":0.08},{"g":"CXCL2","t":"OV","v":-0.05},{"g":"CXCL2","t":"PAAD","v":-0.1},{"g":"CXCL2","t":"PCPG","v":-0.1},{"g":"CXCL2","t":"PRAD","v":0},{"g":"CXCL2","t":"READ","v":0.15},{"g":"CXCL2","t":"SARC","v":0},{"g":"CXCL2","t":"SKCM","v":0},{"g":"CXCL2","t":"STAD","v":-0.15},{"g":"CXCL2","t":"TGCT","v":-0.05},{"g":"CXCL2","t":"THCA","v":-0.05},{"g":"CXCL2","t":"UCEC","v":0},{"g":"CXCL2","t":"UCS","v":0},{"g":"CXCL2","t":"UVM","v":0},
{"g":"CXCL3","t":"ACC","v":-0.05},{"g":"CXCL3","t":"BLCA","v":0.3},{"g":"CXCL3","t":"BRCA","v":0.1},{"g":"CXCL3","t":"CESC","v":0},{"g":"CXCL3","t":"CHOL","v":-0.08},{"g":"CXCL3","t":"COAD","v":0.2},{"g":"CXCL3","t":"ESCA","v":0},{"g":"CXCL3","t":"GBM","v":-0.05},{"g":"CXCL3","t":"HNSC","v":-0.1},{"g":"CXCL3","t":"KICH","v":-0.25},{"g":"CXCL3","t":"KIRC","v":-0.08},{"g":"CXCL3","t":"KIRP","v":-0.08},{"g":"CXCL3","t":"LGG","v":-0.08},{"g":"CXCL3","t":"LIHC","v":0.08},{"g":"CXCL3","t":"LUAD","v":0.2},{"g":"CXCL3","t":"LUSC","v":0.08},{"g":"CXCL3","t":"MESO","v":-0.1},{"g":"CXCL3","t":"OV","v":-0.12},{"g":"CXCL3","t":"PAAD","v":-0.05},{"g":"CXCL3","t":"PCPG","v":-0.05},{"g":"CXCL3","t":"PRAD","v":0.08},{"g":"CXCL3","t":"READ","v":0.2},{"g":"CXCL3","t":"SARC","v":0},{"g":"CXCL3","t":"SKCM","v":0},{"g":"CXCL3","t":"STAD","v":-0.1},{"g":"CXCL3","t":"TGCT","v":0.08},{"g":"CXCL3","t":"THCA","v":-0.05},{"g":"CXCL3","t":"UCEC","v":0},{"g":"CXCL3","t":"UCS","v":0},{"g":"CXCL3","t":"UVM","v":null},
{"g":"CXCL5","t":"ACC","v":-0.05},{"g":"CXCL5","t":"BLCA","v":0.3},{"g":"CXCL5","t":"BRCA","v":0.08},{"g":"CXCL5","t":"CESC","v":0},{"g":"CXCL5","t":"CHOL","v":-0.08},{"g":"CXCL5","t":"COAD","v":0.1},{"g":"CXCL5","t":"ESCA","v":0},{"g":"CXCL5","t":"GBM","v":-0.08},{"g":"CXCL5","t":"HNSC","v":null},{"g":"CXCL5","t":"KICH","v":-0.15},{"g":"CXCL5","t":"KIRC","v":-0.05},{"g":"CXCL5","t":"KIRP","v":-0.1},{"g":"CXCL5","t":"LGG","v":-0.08},{"g":"CXCL5","t":"LIHC","v":0.08},{"g":"CXCL5","t":"LUAD","v":0.12},{"g":"CXCL5","t":"LUSC","v":0.2},{"g":"CXCL5","t":"MESO","v":-0.05},{"g":"CXCL5","t":"OV","v":-0.1},{"g":"CXCL5","t":"PAAD","v":-0.05},{"g":"CXCL5","t":"PCPG","v":-0.05},{"g":"CXCL5","t":"PRAD","v":0},{"g":"CXCL5","t":"READ","v":0.08},{"g":"CXCL5","t":"SARC","v":0},{"g":"CXCL5","t":"SKCM","v":-0.05},{"g":"CXCL5","t":"STAD","v":-0.1},{"g":"CXCL5","t":"TGCT","v":0},{"g":"CXCL5","t":"THCA","v":0.08},{"g":"CXCL5","t":"UCEC","v":0.08},{"g":"CXCL5","t":"UCS","v":0.05},{"g":"CXCL5","t":"UVM","v":null},
{"g":"CXCL6","t":"ACC","v":null},{"g":"CXCL6","t":"BLCA","v":0.22},{"g":"CXCL6","t":"BRCA","v":0.08},{"g":"CXCL6","t":"CESC","v":-0.08},{"g":"CXCL6","t":"CHOL","v":0.08},{"g":"CXCL6","t":"COAD","v":0.08},{"g":"CXCL6","t":"ESCA","v":-0.15},{"g":"CXCL6","t":"GBM","v":0.08},{"g":"CXCL6","t":"HNSC","v":0},{"g":"CXCL6","t":"KICH","v":-0.2},{"g":"CXCL6","t":"KIRC","v":0},{"g":"CXCL6","t":"KIRP","v":-0.1},{"g":"CXCL6","t":"LGG","v":null},{"g":"CXCL6","t":"LIHC","v":-0.05},{"g":"CXCL6","t":"LUAD","v":0.08},{"g":"CXCL6","t":"LUSC","v":0.15},{"g":"CXCL6","t":"MESO","v":0},{"g":"CXCL6","t":"OV","v":-0.25},{"g":"CXCL6","t":"PAAD","v":null},{"g":"CXCL6","t":"PCPG","v":0},{"g":"CXCL6","t":"PRAD","v":0.08},{"g":"CXCL6","t":"READ","v":-0.05},{"g":"CXCL6","t":"SARC","v":0},{"g":"CXCL6","t":"SKCM","v":-0.12},{"g":"CXCL6","t":"STAD","v":null},{"g":"CXCL6","t":"TGCT","v":0.08},{"g":"CXCL6","t":"THCA","v":0},{"g":"CXCL6","t":"UCEC","v":0.08},{"g":"CXCL6","t":"UCS","v":0.08},{"g":"CXCL6","t":"UVM","v":null},
{"g":"CXCL8","t":"ACC","v":0.08},{"g":"CXCL8","t":"BLCA","v":0.25},{"g":"CXCL8","t":"BRCA","v":0.2},{"g":"CXCL8","t":"CESC","v":0},{"g":"CXCL8","t":"CHOL","v":0.08},{"g":"CXCL8","t":"COAD","v":0.2},{"g":"CXCL8","t":"ESCA","v":-0.05},{"g":"CXCL8","t":"GBM","v":0.15},{"g":"CXCL8","t":"HNSC","v":0},{"g":"CXCL8","t":"KICH","v":-0.2},{"g":"CXCL8","t":"KIRC","v":0},{"g":"CXCL8","t":"KIRP","v":-0.05},{"g":"CXCL8","t":"LGG","v":0},{"g":"CXCL8","t":"LIHC","v":-0.15},{"g":"CXCL8","t":"LUAD","v":0.3},{"g":"CXCL8","t":"LUSC","v":0.35},{"g":"CXCL8","t":"MESO","v":-0.05},{"g":"CXCL8","t":"OV","v":0.08},{"g":"CXCL8","t":"PAAD","v":-0.05},{"g":"CXCL8","t":"PCPG","v":-0.1},{"g":"CXCL8","t":"PRAD","v":-0.05},{"g":"CXCL8","t":"READ","v":0.12},{"g":"CXCL8","t":"SARC","v":0},{"g":"CXCL8","t":"SKCM","v":0},{"g":"CXCL8","t":"STAD","v":-0.05},{"g":"CXCL8","t":"TGCT","v":0.08},{"g":"CXCL8","t":"THCA","v":0.08},{"g":"CXCL8","t":"UCEC","v":0.15},{"g":"CXCL8","t":"UCS","v":0},{"g":"CXCL8","t":"UVM","v":0},
{"g":"CXCL9","t":"ACC","v":-0.15},{"g":"CXCL9","t":"BLCA","v":0.25},{"g":"CXCL9","t":"BRCA","v":0},{"g":"CXCL9","t":"CESC","v":-0.05},{"g":"CXCL9","t":"CHOL","v":0.05},{"g":"CXCL9","t":"COAD","v":-0.05},{"g":"CXCL9","t":"ESCA","v":-0.08},{"g":"CXCL9","t":"GBM","v":0},{"g":"CXCL9","t":"HNSC","v":0},{"g":"CXCL9","t":"KICH","v":-0.12},{"g":"CXCL9","t":"KIRC","v":0},{"g":"CXCL9","t":"KIRP","v":-0.05},{"g":"CXCL9","t":"LGG","v":-0.25},{"g":"CXCL9","t":"LIHC","v":0},{"g":"CXCL9","t":"LUAD","v":-0.05},{"g":"CXCL9","t":"LUSC","v":-0.1},{"g":"CXCL9","t":"MESO","v":0.05},{"g":"CXCL9","t":"OV","v":0},{"g":"CXCL9","t":"PAAD","v":-0.05},{"g":"CXCL9","t":"PCPG","v":-0.1},{"g":"CXCL9","t":"PRAD","v":0},{"g":"CXCL9","t":"READ","v":0.05},{"g":"CXCL9","t":"SARC","v":-0.05},{"g":"CXCL9","t":"SKCM","v":-0.25},{"g":"CXCL9","t":"STAD","v":-0.05},{"g":"CXCL9","t":"TGCT","v":0},{"g":"CXCL9","t":"THCA","v":0.05},{"g":"CXCL9","t":"UCEC","v":0},{"g":"CXCL9","t":"UCS","v":0},{"g":"CXCL9","t":"UVM","v":-0.15},
{"g":"CXCL10","t":"ACC","v":-0.05},{"g":"CXCL10","t":"BLCA","v":0.3},{"g":"CXCL10","t":"BRCA","v":0.08},{"g":"CXCL10","t":"CESC","v":0.08},{"g":"CXCL10","t":"CHOL","v":0},{"g":"CXCL10","t":"COAD","v":0.08},{"g":"CXCL10","t":"ESCA","v":-0.05},{"g":"CXCL10","t":"GBM","v":0.1},{"g":"CXCL10","t":"HNSC","v":0.08},{"g":"CXCL10","t":"KICH","v":0.08},{"g":"CXCL10","t":"KIRC","v":0.08},{"g":"CXCL10","t":"KIRP","v":-0.05},{"g":"CXCL10","t":"LGG","v":-0.1},{"g":"CXCL10","t":"LIHC","v":0.08},{"g":"CXCL10","t":"LUAD","v":0.15},{"g":"CXCL10","t":"LUSC","v":-0.05},{"g":"CXCL10","t":"MESO","v":0.15},{"g":"CXCL10","t":"OV","v":0},{"g":"CXCL10","t":"PAAD","v":-0.05},{"g":"CXCL10","t":"PCPG","v":-0.08},{"g":"CXCL10","t":"PRAD","v":0.08},{"g":"CXCL10","t":"READ","v":-0.08},{"g":"CXCL10","t":"SARC","v":-0.12},{"g":"CXCL10","t":"SKCM","v":-0.05},{"g":"CXCL10","t":"STAD","v":0.08},{"g":"CXCL10","t":"TGCT","v":0.08},{"g":"CXCL10","t":"THCA","v":0.1},{"g":"CXCL10","t":"UCEC","v":0.08},{"g":"CXCL10","t":"UCS","v":0},{"g":"CXCL10","t":"UVM","v":-0.15},
{"g":"CXCL11","t":"ACC","v":0.08},{"g":"CXCL11","t":"BLCA","v":0.3},{"g":"CXCL11","t":"BRCA","v":0.15},{"g":"CXCL11","t":"CESC","v":0},{"g":"CXCL11","t":"CHOL","v":0.08},{"g":"CXCL11","t":"COAD","v":0.08},{"g":"CXCL11","t":"ESCA","v":0},{"g":"CXCL11","t":"GBM","v":0.15},{"g":"CXCL11","t":"HNSC","v":0.1},{"g":"CXCL11","t":"KICH","v":-0.1},{"g":"CXCL11","t":"KIRC","v":0.2},{"g":"CXCL11","t":"KIRP","v":0.08},{"g":"CXCL11","t":"LGG","v":-0.05},{"g":"CXCL11","t":"LIHC","v":-0.05},{"g":"CXCL11","t":"LUAD","v":0.2},{"g":"CXCL11","t":"LUSC","v":0.08},{"g":"CXCL11","t":"MESO","v":0.15},{"g":"CXCL11","t":"OV","v":0},{"g":"CXCL11","t":"PAAD","v":0.08},{"g":"CXCL11","t":"PCPG","v":-0.05},{"g":"CXCL11","t":"PRAD","v":0.15},{"g":"CXCL11","t":"READ","v":0.08},{"g":"CXCL11","t":"SARC","v":-0.05},{"g":"CXCL11","t":"SKCM","v":-0.05},{"g":"CXCL11","t":"STAD","v":0.08},{"g":"CXCL11","t":"TGCT","v":0.08},{"g":"CXCL11","t":"THCA","v":0.15},{"g":"CXCL11","t":"UCEC","v":0.08},{"g":"CXCL11","t":"UCS","v":0.12},{"g":"CXCL11","t":"UVM","v":-0.1},
{"g":"CXCL12","t":"ACC","v":-0.2},{"g":"CXCL12","t":"BLCA","v":0.3},{"g":"CXCL12","t":"BRCA","v":-0.2},{"g":"CXCL12","t":"CESC","v":-0.2},{"g":"CXCL12","t":"CHOL","v":-0.15},{"g":"CXCL12","t":"COAD","v":-0.2},{"g":"CXCL12","t":"ESCA","v":0},{"g":"CXCL12","t":"GBM","v":-0.15},{"g":"CXCL12","t":"HNSC","v":-0.15},{"g":"CXCL12","t":"KICH","v":0},{"g":"CXCL12","t":"KIRC","v":0.05},{"g":"CXCL12","t":"KIRP","v":0.05},{"g":"CXCL12","t":"LGG","v":-0.1},{"g":"CXCL12","t":"LIHC","v":-0.1},{"g":"CXCL12","t":"LUAD","v":-0.05},{"g":"CXCL12","t":"LUSC","v":0},{"g":"CXCL12","t":"MESO","v":0.05},{"g":"CXCL12","t":"OV","v":0.05},{"g":"CXCL12","t":"PAAD","v":-0.05},{"g":"CXCL12","t":"PCPG","v":-0.05},{"g":"CXCL12","t":"PRAD","v":0.05},{"g":"CXCL12","t":"READ","v":-0.15},{"g":"CXCL12","t":"SARC","v":-0.05},{"g":"CXCL12","t":"SKCM","v":-0.05},{"g":"CXCL12","t":"STAD","v":0},{"g":"CXCL12","t":"TGCT","v":-0.1},{"g":"CXCL12","t":"THCA","v":-0.05},{"g":"CXCL12","t":"UCEC","v":-0.15},{"g":"CXCL12","t":"UCS","v":-0.25},{"g":"CXCL12","t":"UVM","v":-0.3},
{"g":"CXCL13","t":"ACC","v":-0.05},{"g":"CXCL13","t":"BLCA","v":0.25},{"g":"CXCL13","t":"BRCA","v":0.08},{"g":"CXCL13","t":"CESC","v":0},{"g":"CXCL13","t":"CHOL","v":0},{"g":"CXCL13","t":"COAD","v":-0.1},{"g":"CXCL13","t":"ESCA","v":0},{"g":"CXCL13","t":"GBM","v":0.08},{"g":"CXCL13","t":"HNSC","v":0},{"g":"CXCL13","t":"KICH","v":0.15},{"g":"CXCL13","t":"KIRC","v":-0.05},{"g":"CXCL13","t":"KIRP","v":0},{"g":"CXCL13","t":"LGG","v":-0.05},{"g":"CXCL13","t":"LIHC","v":0.1},{"g":"CXCL13","t":"LUAD","v":0.08},{"g":"CXCL13","t":"LUSC","v":0.08},{"g":"CXCL13","t":"MESO","v":0.08},{"g":"CXCL13","t":"OV","v":0.08},{"g":"CXCL13","t":"PAAD","v":0.08},{"g":"CXCL13","t":"PCPG","v":0.08},{"g":"CXCL13","t":"PRAD","v":0},{"g":"CXCL13","t":"READ","v":-0.12},{"g":"CXCL13","t":"SARC","v":-0.12},{"g":"CXCL13","t":"SKCM","v":0},{"g":"CXCL13","t":"STAD","v":0.08},{"g":"CXCL13","t":"TGCT","v":0.08},{"g":"CXCL13","t":"THCA","v":0.08},{"g":"CXCL13","t":"UCEC","v":0.08},{"g":"CXCL13","t":"UCS","v":0},{"g":"CXCL13","t":"UVM","v":-0.3},
{"g":"CXCL14","t":"ACC","v":0},{"g":"CXCL14","t":"BLCA","v":-0.1},{"g":"CXCL14","t":"BRCA","v":0},{"g":"CXCL14","t":"CESC","v":-0.2},{"g":"CXCL14","t":"CHOL","v":0.05},{"g":"CXCL14","t":"COAD","v":-0.15},{"g":"CXCL14","t":"ESCA","v":0},{"g":"CXCL14","t":"GBM","v":0.05},{"g":"CXCL14","t":"HNSC","v":-0.1},{"g":"CXCL14","t":"KICH","v":0.05},{"g":"CXCL14","t":"KIRC","v":0.4},{"g":"CXCL14","t":"KIRP","v":0},{"g":"CXCL14","t":"LGG","v":0.35},{"g":"CXCL14","t":"LIHC","v":-0.2},{"g":"CXCL14","t":"LUAD","v":-0.05},{"g":"CXCL14","t":"LUSC","v":-0.05},{"g":"CXCL14","t":"MESO","v":0.05},{"g":"CXCL14","t":"OV","v":-0.05},{"g":"CXCL14","t":"PAAD","v":-0.05},{"g":"CXCL14","t":"PCPG","v":0.05},{"g":"CXCL14","t":"PRAD","v":-0.05},{"g":"CXCL14","t":"READ","v":-0.05},{"g":"CXCL14","t":"SARC","v":0},{"g":"CXCL14","t":"SKCM","v":-0.2},{"g":"CXCL14","t":"STAD","v":-0.3},{"g":"CXCL14","t":"TGCT","v":-0.1},{"g":"CXCL14","t":"THCA","v":-0.05},{"g":"CXCL14","t":"UCEC","v":-0.05},{"g":"CXCL14","t":"UCS","v":0},{"g":"CXCL14","t":"UVM","v":-0.25},
{"g":"CXCL16","t":"ACC","v":0.05},{"g":"CXCL16","t":"BLCA","v":0.3},{"g":"CXCL16","t":"BRCA","v":0.05},{"g":"CXCL16","t":"CESC","v":0.15},{"g":"CXCL16","t":"CHOL","v":-0.1},{"g":"CXCL16","t":"COAD","v":-0.15},{"g":"CXCL16","t":"ESCA","v":0.05},{"g":"CXCL16","t":"GBM","v":0},{"g":"CXCL16","t":"HNSC","v":0.05},{"g":"CXCL16","t":"KICH","v":0.2},{"g":"CXCL16","t":"KIRC","v":-0.25},{"g":"CXCL16","t":"KIRP","v":0},{"g":"CXCL16","t":"LGG","v":-0.5},{"g":"CXCL16","t":"LIHC","v":0},{"g":"CXCL16","t":"LUAD","v":-0.05},{"g":"CXCL16","t":"LUSC","v":0},{"g":"CXCL16","t":"MESO","v":0.15},{"g":"CXCL16","t":"OV","v":0.05},{"g":"CXCL16","t":"PAAD","v":0.05},{"g":"CXCL16","t":"PCPG","v":-0.08},{"g":"CXCL16","t":"PRAD","v":-0.05},{"g":"CXCL16","t":"READ","v":-0.35},{"g":"CXCL16","t":"SARC","v":-0.08},{"g":"CXCL16","t":"SKCM","v":-0.08},{"g":"CXCL16","t":"STAD","v":-0.05},{"g":"CXCL16","t":"TGCT","v":0},{"g":"CXCL16","t":"THCA","v":-0.08},{"g":"CXCL16","t":"UCEC","v":0},{"g":"CXCL16","t":"UCS","v":0.05},{"g":"CXCL16","t":"UVM","v":-0.2},
{"g":"CXCL17","t":"ACC","v":-0.05},{"g":"CXCL17","t":"BLCA","v":0},{"g":"CXCL17","t":"BRCA","v":0},{"g":"CXCL17","t":"CESC","v":-0.05},{"g":"CXCL17","t":"CHOL","v":0},{"g":"CXCL17","t":"COAD","v":0.05},{"g":"CXCL17","t":"ESCA","v":0},{"g":"CXCL17","t":"GBM","v":null},{"g":"CXCL17","t":"HNSC","v":-0.05},{"g":"CXCL17","t":"KICH","v":null},{"g":"CXCL17","t":"KIRC","v":0},{"g":"CXCL17","t":"KIRP","v":null},{"g":"CXCL17","t":"LGG","v":0},{"g":"CXCL17","t":"LIHC","v":0},{"g":"CXCL17","t":"LUAD","v":0.05},{"g":"CXCL17","t":"LUSC","v":0.15},{"g":"CXCL17","t":"MESO","v":0.2},{"g":"CXCL17","t":"OV","v":0},{"g":"CXCL17","t":"PAAD","v":null},{"g":"CXCL17","t":"PCPG","v":-0.05},{"g":"CXCL17","t":"PRAD","v":0},{"g":"CXCL17","t":"READ","v":0},{"g":"CXCL17","t":"SARC","v":-0.05},{"g":"CXCL17","t":"SKCM","v":0},{"g":"CXCL17","t":"STAD","v":-0.05},{"g":"CXCL17","t":"TGCT","v":0.05},{"g":"CXCL17","t":"THCA","v":0.15},{"g":"CXCL17","t":"UCEC","v":0},{"g":"CXCL17","t":"UCS","v":0},{"g":"CXCL17","t":"UVM","v":null},
{"g":"XCL1","t":"ACC","v":-0.1},{"g":"XCL1","t":"BLCA","v":-0.05},{"g":"XCL1","t":"BRCA","v":0},{"g":"XCL1","t":"CESC","v":0.05},{"g":"XCL1","t":"CHOL","v":0.05},{"g":"XCL1","t":"COAD","v":0.05},{"g":"XCL1","t":"ESCA","v":-0.05},{"g":"XCL1","t":"GBM","v":null},{"g":"XCL1","t":"HNSC","v":-0.05},{"g":"XCL1","t":"KICH","v":null},{"g":"XCL1","t":"KIRC","v":0.05},{"g":"XCL1","t":"KIRP","v":0},{"g":"XCL1","t":"LGG","v":null},{"g":"XCL1","t":"LIHC","v":0},{"g":"XCL1","t":"LUAD","v":0.1},{"g":"XCL1","t":"LUSC","v":0.08},{"g":"XCL1","t":"MESO","v":0.08},{"g":"XCL1","t":"OV","v":0.15},{"g":"XCL1","t":"PAAD","v":0},{"g":"XCL1","t":"PCPG","v":null},{"g":"XCL1","t":"PRAD","v":-0.05},{"g":"XCL1","t":"READ","v":-0.05},{"g":"XCL1","t":"SARC","v":0.05},{"g":"XCL1","t":"SKCM","v":-0.05},{"g":"XCL1","t":"STAD","v":-0.08},{"g":"XCL1","t":"TGCT","v":0.05},{"g":"XCL1","t":"THCA","v":-0.05},{"g":"XCL1","t":"UCEC","v":0},{"g":"XCL1","t":"UCS","v":-0.05},{"g":"XCL1","t":"UVM","v":-0.3},
{"g":"XCL2","t":"ACC","v":-0.15},{"g":"XCL2","t":"BLCA","v":0.08},{"g":"XCL2","t":"BRCA","v":0.08},{"g":"XCL2","t":"CESC","v":0.1},{"g":"XCL2","t":"CHOL","v":0.08},{"g":"XCL2","t":"COAD","v":-0.05},{"g":"XCL2","t":"ESCA","v":-0.08},{"g":"XCL2","t":"GBM","v":0},{"g":"XCL2","t":"HNSC","v":0.15},{"g":"XCL2","t":"KICH","v":null},{"g":"XCL2","t":"KIRC","v":0.15},{"g":"XCL2","t":"KIRP","v":0.08},{"g":"XCL2","t":"LGG","v":null},{"g":"XCL2","t":"LIHC","v":0.08},{"g":"XCL2","t":"LUAD","v":0.08},{"g":"XCL2","t":"LUSC","v":0.15},{"g":"XCL2","t":"MESO","v":0.2},{"g":"XCL2","t":"OV","v":0.2},{"g":"XCL2","t":"PAAD","v":0.08},{"g":"XCL2","t":"PCPG","v":null},{"g":"XCL2","t":"PRAD","v":0},{"g":"XCL2","t":"READ","v":null},{"g":"XCL2","t":"SARC","v":0.08},{"g":"XCL2","t":"SKCM","v":-0.05},{"g":"XCL2","t":"STAD","v":-0.05},{"g":"XCL2","t":"TGCT","v":0.08},{"g":"XCL2","t":"THCA","v":0.08},{"g":"XCL2","t":"UCEC","v":0},{"g":"XCL2","t":"UCS","v":0.08},{"g":"XCL2","t":"UVM","v":-0.25}
],
"mhc": [
{"g":"B2M","t":"ACC","v":0.05},{"g":"B2M","t":"BLCA","v":0.3},{"g":"B2M","t":"BRCA","v":0.22},{"g":"B2M","t":"CESC","v":0.22},{"g":"B2M","t":"CHOL","v":0.4},{"g":"B2M","t":"COAD","v":0.3},{"g":"B2M","t":"ESCA","v":0.12},{"g":"B2M","t":"GBM","v":0.3},{"g":"B2M","t":"HNSC","v":0.25},{"g":"B2M","t":"KICH","v":0.3},{"g":"B2M","t":"KIRC","v":0.4},{"g":"B2M","t":"KIRP","v":0.4},{"g":"B2M","t":"LGG","v":-0.12},{"g":"B2M","t":"LIHC","v":0.1},{"g":"B2M","t":"LUAD","v":0.15},{"g":"B2M","t":"LUSC","v":0.3},{"g":"B2M","t":"MESO","v":0.12},{"g":"B2M","t":"OV","v":0.3},{"g":"B2M","t":"PAAD","v":0.15},{"g":"B2M","t":"PCPG","v":0.15},{"g":"B2M","t":"PRAD","v":0.05},{"g":"B2M","t":"READ","v":0.35},{"g":"B2M","t":"SARC","v":0.15},{"g":"B2M","t":"SKCM","v":-0.05},{"g":"B2M","t":"STAD","v":0.15},{"g":"B2M","t":"TGCT","v":-0.1},{"g":"B2M","t":"THCA","v":0.3},{"g":"B2M","t":"UCEC","v":0.2},{"g":"B2M","t":"UCS","v":0.38},{"g":"B2M","t":"UVM","v":-0.1},
{"g":"HLA-A","t":"ACC","v":-0.15},{"g":"HLA-A","t":"BLCA","v":0.35},{"g":"HLA-A","t":"BRCA","v":0.22},{"g":"HLA-A","t":"CESC","v":0.22},{"g":"HLA-A","t":"CHOL","v":0.3},{"g":"HLA-A","t":"COAD","v":-0.05},{"g":"HLA-A","t":"ESCA","v":0.08},{"g":"HLA-A","t":"GBM","v":0.12},{"g":"HLA-A","t":"HNSC","v":0.25},{"g":"HLA-A","t":"KICH","v":0.15},{"g":"HLA-A","t":"KIRC","v":0.35},{"g":"HLA-A","t":"KIRP","v":0.35},{"g":"HLA-A","t":"LGG","v":-0.15},{"g":"HLA-A","t":"LIHC","v":0.2},{"g":"HLA-A","t":"LUAD","v":0},{"g":"HLA-A","t":"LUSC","v":0.2},{"g":"HLA-A","t":"MESO","v":0.2},{"g":"HLA-A","t":"OV","v":0.25},{"g":"HLA-A","t":"PAAD","v":0.08},{"g":"HLA-A","t":"PCPG","v":-0.03},{"g":"HLA-A","t":"PRAD","v":-0.08},{"g":"HLA-A","t":"READ","v":0.25},{"g":"HLA-A","t":"SARC","v":0.05},{"g":"HLA-A","t":"SKCM","v":0.03},{"g":"HLA-A","t":"STAD","v":0},{"g":"HLA-A","t":"TGCT","v":0.15},{"g":"HLA-A","t":"THCA","v":0.1},{"g":"HLA-A","t":"UCEC","v":-0.1},{"g":"HLA-A","t":"UCS","v":0.35},{"g":"HLA-A","t":"UVM","v":-0.25},
{"g":"HLA-B","t":"ACC","v":-0.03},{"g":"HLA-B","t":"BLCA","v":0.3},{"g":"HLA-B","t":"BRCA","v":0.22},{"g":"HLA-B","t":"CESC","v":0.25},{"g":"HLA-B","t":"CHOL","v":0.38},{"g":"HLA-B","t":"COAD","v":-0.1},{"g":"HLA-B","t":"ESCA","v":0.05},{"g":"HLA-B","t":"GBM","v":0.12},{"g":"HLA-B","t":"HNSC","v":0.2},{"g":"HLA-B","t":"KICH","v":0.1},{"g":"HLA-B","t":"KIRC","v":0.35},{"g":"HLA-B","t":"KIRP","v":0.4},{"g":"HLA-B","t":"LGG","v":-0.2},{"g":"HLA-B","t":"LIHC","v":0.05},{"g":"HLA-B","t":"LUAD","v":-0.08},{"g":"HLA-B","t":"LUSC","v":0.2},{"g":"HLA-B","t":"MESO","v":0.25},{"g":"HLA-B","t":"OV","v":0.2},{"g":"HLA-B","t":"PAAD","v":-0.05},{"g":"HLA-B","t":"PCPG","v":-0.03},{"g":"HLA-B","t":"PRAD","v":0.15},{"g":"HLA-B","t":"READ","v":-0.08},{"g":"HLA-B","t":"SARC","v":0.1},{"g":"HLA-B","t":"SKCM","v":0},{"g":"HLA-B","t":"STAD","v":0},{"g":"HLA-B","t":"TGCT","v":0.15},{"g":"HLA-B","t":"THCA","v":0},{"g":"HLA-B","t":"UCEC","v":0.3},{"g":"HLA-B","t":"UCS","v":0.3},{"g":"HLA-B","t":"UVM","v":-0.05},
{"g":"HLA-C","t":"ACC","v":0.12},{"g":"HLA-C","t":"BLCA","v":0.2},{"g":"HLA-C","t":"BRCA","v":0.05},{"g":"HLA-C","t":"CESC","v":0.2},{"g":"HLA-C","t":"CHOL","v":0.45},{"g":"HLA-C","t":"COAD","v":-0.15},{"g":"HLA-C","t":"ESCA","v":0.1},{"g":"HLA-C","t":"GBM","v":0.12},{"g":"HLA-C","t":"HNSC","v":0.2},{"g":"HLA-C","t":"KICH","v":0.25},{"g":"HLA-C","t":"KIRC","v":0.33},{"g":"HLA-C","t":"KIRP","v":0.35},{"g":"HLA-C","t":"LGG","v":-0.2},{"g":"HLA-C","t":"LIHC","v":0.15},{"g":"HLA-C","t":"LUAD","v":0},{"g":"HLA-C","t":"LUSC","v":0.2},{"g":"HLA-C","t":"MESO","v":0.25},{"g":"HLA-C","t":"OV","v":0.2},{"g":"HLA-C","t":"PAAD","v":0},{"g":"HLA-C","t":"PCPG","v":0.15},{"g":"HLA-C","t":"PRAD","v":0.1},{"g":"HLA-C","t":"READ","v":-0.12},{"g":"HLA-C","t":"SARC","v":0.2},{"g":"HLA-C","t":"SKCM","v":-0.03},{"g":"HLA-C","t":"STAD","v":-0.03},{"g":"HLA-C","t":"TGCT","v":0.1},{"g":"HLA-C","t":"THCA","v":0.15},{"g":"HLA-C","t":"UCEC","v":-0.05},{"g":"HLA-C","t":"UCS","v":0.3},{"g":"HLA-C","t":"UVM","v":-0.05},
{"g":"HLA-DMA","t":"ACC","v":-0.05},{"g":"HLA-DMA","t":"BLCA","v":0.2},{"g":"HLA-DMA","t":"BRCA","v":0.05},{"g":"HLA-DMA","t":"CESC","v":0.25},{"g":"HLA-DMA","t":"CHOL","v":0.25},{"g":"HLA-DMA","t":"COAD","v":-0.1},{"g":"HLA-DMA","t":"ESCA","v":0.05},{"g":"HLA-DMA","t":"GBM","v":0.2},{"g":"HLA-DMA","t":"HNSC","v":0.15},{"g":"HLA-DMA","t":"KICH","v":-0.1},{"g":"HLA-DMA","t":"KIRC","v":0.2},{"g":"HLA-DMA","t":"KIRP","v":0.2},{"g":"HLA-DMA","t":"LGG","v":-0.3},{"g":"HLA-DMA","t":"LIHC","v":0.15},{"g":"HLA-DMA","t":"LUAD","v":-0.1},{"g":"HLA-DMA","t":"LUSC","v":0.1},{"g":"HLA-DMA","t":"MESO","v":0.05},{"g":"HLA-DMA","t":"OV","v":0.35},{"g":"HLA-DMA","t":"PAAD","v":0},{"g":"HLA-DMA","t":"PCPG","v":-0.1},{"g":"HLA-DMA","t":"PRAD","v":0.05},{"g":"HLA-DMA","t":"READ","v":0.05},{"g":"HLA-DMA","t":"SARC","v":-0.08},{"g":"HLA-DMA","t":"SKCM","v":-0.08},{"g":"HLA-DMA","t":"STAD","v":-0.12},{"g":"HLA-DMA","t":"TGCT","v":-0.05},{"g":"HLA-DMA","t":"THCA","v":0.35},{"g":"HLA-DMA","t":"UCEC","v":0.05},{"g":"HLA-DMA","t":"UCS","v":0.38},{"g":"HLA-DMA","t":"UVM","v":-0.45},
{"g":"HLA-DMB","t":"ACC","v":0.35},{"g":"HLA-DMB","t":"BLCA","v":0.3},{"g":"HLA-DMB","t":"BRCA","v":0},{"g":"HLA-DMB","t":"CESC","v":0.1},{"g":"HLA-DMB","t":"CHOL","v":0.15},{"g":"HLA-DMB","t":"COAD","v":-0.08},{"g":"HLA-DMB","t":"ESCA","v":-0.05},{"g":"HLA-DMB","t":"GBM","v":0.38},{"g":"HLA-DMB","t":"HNSC","v":0.08},{"g":"HLA-DMB","t":"KICH","v":-0.03},{"g":"HLA-DMB","t":"KIRC","v":0.25},{"g":"HLA-DMB","t":"KIRP","v":0},{"g":"HLA-DMB","t":"LGG","v":-0.35},{"g":"HLA-DMB","t":"LIHC","v":-0.05},{"g":"HLA-DMB","t":"LUAD","v":-0.08},{"g":"HLA-DMB","t":"LUSC","v":0.1},{"g":"HLA-DMB","t":"MESO","v":0.05},{"g":"HLA-DMB","t":"OV","v":0.3},{"g":"HLA-DMB","t":"PAAD","v":0},{"g":"HLA-DMB","t":"PCPG","v":-0.05},{"g":"HLA-DMB","t":"PRAD","v":-0.03},{"g":"HLA-DMB","t":"READ","v":0},{"g":"HLA-DMB","t":"SARC","v":0},{"g":"HLA-DMB","t":"SKCM","v":-0.1},{"g":"HLA-DMB","t":"STAD","v":-0.12},{"g":"HLA-DMB","t":"TGCT","v":-0.1},{"g":"HLA-DMB","t":"THCA","v":0.35},{"g":"HLA-DMB","t":"UCEC","v":0.03},{"g":"HLA-DMB","t":"UCS","v":0.12},{"g":"HLA-DMB","t":"UVM","v":-0.2},
{"g":"HLA-DOA","t":"ACC","v":0.03},{"g":"HLA-DOA","t":"BLCA","v":0.15},{"g":"HLA-DOA","t":"BRCA","v":-0.12},{"g":"HLA-DOA","t":"CESC","v":0},{"g":"HLA-DOA","t":"CHOL","v":-0.08},{"g":"HLA-DOA","t":"COAD","v":-0.3},{"g":"HLA-DOA","t":"ESCA","v":-0.15},{"g":"HLA-DOA","t":"GBM","v":0.08},{"g":"HLA-DOA","t":"HNSC","v":-0.05},{"g":"HLA-DOA","t":"KICH","v":-0.05},{"g":"HLA-DOA","t":"KIRC","v":0.2},{"g":"HLA-DOA","t":"KIRP","v":0.12},{"g":"HLA-DOA","t":"LGG","v":-0.3},{"g":"HLA-DOA","t":"LIHC","v":-0.08},{"g":"HLA-DOA","t":"LUAD","v":-0.2},{"g":"HLA-DOA","t":"LUSC","v":0},{"g":"HLA-DOA","t":"MESO","v":-0.03},{"g":"HLA-DOA","t":"OV","v":0.2},{"g":"HLA-DOA","t":"PAAD","v":-0.08},{"g":"HLA-DOA","t":"PCPG","v":-0.05},{"g":"HLA-DOA","t":"PRAD","v":-0.08},{"g":"HLA-DOA","t":"READ","v":-0.2},{"g":"HLA-DOA","t":"SARC","v":-0.03},{"g":"HLA-DOA","t":"SKCM","v":-0.15},{"g":"HLA-DOA","t":"STAD","v":-0.28},{"g":"HLA-DOA","t":"TGCT","v":-0.15},{"g":"HLA-DOA","t":"THCA","v":0.08},{"g":"HLA-DOA","t":"UCEC","v":0},{"g":"HLA-DOA","t":"UCS","v":-0.08},{"g":"HLA-DOA","t":"UVM","v":-0.3},
{"g":"HLA-DOB","t":"ACC","v":-0.2},{"g":"HLA-DOB","t":"BLCA","v":0.3},{"g":"HLA-DOB","t":"BRCA","v":0.08},{"g":"HLA-DOB","t":"CESC","v":0.05},{"g":"HLA-DOB","t":"CHOL","v":-0.1},{"g":"HLA-DOB","t":"COAD","v":-0.15},{"g":"HLA-DOB","t":"ESCA","v":-0.2},{"g":"HLA-DOB","t":"GBM","v":0.05},{"g":"HLA-DOB","t":"HNSC","v":0.08},{"g":"HLA-DOB","t":"KICH","v":-0.08},{"g":"HLA-DOB","t":"KIRC","v":0.25},{"g":"HLA-DOB","t":"KIRP","v":0},{"g":"HLA-DOB","t":"LGG","v":-0.3},{"g":"HLA-DOB","t":"LIHC","v":-0.08},{"g":"HLA-DOB","t":"LUAD","v":-0.08},{"g":"HLA-DOB","t":"LUSC","v":0.1},{"g":"HLA-DOB","t":"MESO","v":0.12},{"g":"HLA-DOB","t":"OV","v":0.25},{"g":"HLA-DOB","t":"PAAD","v":0},{"g":"HLA-DOB","t":"PCPG","v":-0.05},{"g":"HLA-DOB","t":"PRAD","v":0},{"g":"HLA-DOB","t":"READ","v":0.08},{"g":"HLA-DOB","t":"SARC","v":-0.03},{"g":"HLA-DOB","t":"SKCM","v":-0.2},{"g":"HLA-DOB","t":"STAD","v":-0.15},{"g":"HLA-DOB","t":"TGCT","v":0.08},{"g":"HLA-DOB","t":"THCA","v":-0.1},{"g":"HLA-DOB","t":"UCEC","v":0.05},{"g":"HLA-DOB","t":"UCS","v":0.03},{"g":"HLA-DOB","t":"UVM","v":-0.28},
{"g":"HLA-DPA1","t":"ACC","v":0.08},{"g":"HLA-DPA1","t":"BLCA","v":0.3},{"g":"HLA-DPA1","t":"BRCA","v":-0.05},{"g":"HLA-DPA1","t":"CESC","v":0.08},{"g":"HLA-DPA1","t":"CHOL","v":0.12},{"g":"HLA-DPA1","t":"COAD","v":-0.15},{"g":"HLA-DPA1","t":"ESCA","v":-0.03},{"g":"HLA-DPA1","t":"GBM","v":0.15},{"g":"HLA-DPA1","t":"HNSC","v":0},{"g":"HLA-DPA1","t":"KICH","v":-0.05},{"g":"HLA-DPA1","t":"KIRC","v":0.25},{"g":"HLA-DPA1","t":"KIRP","v":0.25},{"g":"HLA-DPA1","t":"LGG","v":-0.2},{"g":"HLA-DPA1","t":"LIHC","v":-0.05},{"g":"HLA-DPA1","t":"LUAD","v":-0.1},{"g":"HLA-DPA1","t":"LUSC","v":0.1},{"g":"HLA-DPA1","t":"MESO","v":0.1},{"g":"HLA-DPA1","t":"OV","v":0.2},{"g":"HLA-DPA1","t":"PAAD","v":0},{"g":"HLA-DPA1","t":"PCPG","v":-0.08},{"g":"HLA-DPA1","t":"PRAD","v":0},{"g":"HLA-DPA1","t":"READ","v":-0.05},{"g":"HLA-DPA1","t":"SARC","v":-0.1},{"g":"HLA-DPA1","t":"SKCM","v":-0.1},{"g":"HLA-DPA1","t":"STAD","v":-0.15},{"g":"HLA-DPA1","t":"TGCT","v":0.15},{"g":"HLA-DPA1","t":"THCA","v":0},{"g":"HLA-DPA1","t":"UCEC","v":0.1},{"g":"HLA-DPA1","t":"UCS","v":0.05},{"g":"HLA-DPA1","t":"UVM","v":-0.28},
{"g":"HLA-DPB1","t":"ACC","v":0.08},{"g":"HLA-DPB1","t":"BLCA","v":0.32},{"g":"HLA-DPB1","t":"BRCA","v":-0.08},{"g":"HLA-DPB1","t":"CESC","v":0.15},{"g":"HLA-DPB1","t":"CHOL","v":0.12},{"g":"HLA-DPB1","t":"COAD","v":-0.3},{"g":"HLA-DPB1","t":"ESCA","v":-0.03},{"g":"HLA-DPB1","t":"GBM","v":0.2},{"g":"HLA-DPB1","t":"HNSC","v":0.1},{"g":"HLA-DPB1","t":"KICH","v":-0.08},{"g":"HLA-DPB1","t":"KIRC","v":0.25},{"g":"HLA-DPB1","t":"KIRP","v":0.25},{"g":"HLA-DPB1","t":"LGG","v":-0.2},{"g":"HLA-DPB1","t":"LIHC","v":0},{"g":"HLA-DPB1","t":"LUAD","v":-0.15},{"g":"HLA-DPB1","t":"LUSC","v":0.08},{"g":"HLA-DPB1","t":"MESO","v":0.05},{"g":"HLA-DPB1","t":"OV","v":0.3},{"g":"HLA-DPB1","t":"PAAD","v":0.05},{"g":"HLA-DPB1","t":"PCPG","v":-0.05},{"g":"HLA-DPB1","t":"PRAD","v":0.1},{"g":"HLA-DPB1","t":"READ","v":-0.15},{"g":"HLA-DPB1","t":"SARC","v":0},{"g":"HLA-DPB1","t":"SKCM","v":-0.08},{"g":"HLA-DPB1","t":"STAD","v":-0.1},{"g":"HLA-DPB1","t":"TGCT","v":0.15},{"g":"HLA-DPB1","t":"THCA","v":0},{"g":"HLA-DPB1","t":"UCEC","v":0.1},{"g":"HLA-DPB1","t":"UCS","v":0.08},{"g":"HLA-DPB1","t":"UVM","v":-0.28},
{"g":"HLA-DQA1","t":"ACC","v":0},{"g":"HLA-DQA1","t":"BLCA","v":0.3},{"g":"HLA-DQA1","t":"BRCA","v":0.05},{"g":"HLA-DQA1","t":"CESC","v":0.05},{"g":"HLA-DQA1","t":"CHOL","v":-0.1},{"g":"HLA-DQA1","t":"COAD","v":-0.2},{"g":"HLA-DQA1","t":"ESCA","v":-0.12},{"g":"HLA-DQA1","t":"GBM","v":0.08},{"g":"HLA-DQA1","t":"HNSC","v":0},{"g":"HLA-DQA1","t":"KICH","v":-0.1},{"g":"HLA-DQA1","t":"KIRC","v":0.2},{"g":"HLA-DQA1","t":"KIRP","v":0.22},{"g":"HLA-DQA1","t":"LGG","v":-0.15},{"g":"HLA-DQA1","t":"LIHC","v":-0.05},{"g":"HLA-DQA1","t":"LUAD","v":-0.15},{"g":"HLA-DQA1","t":"LUSC","v":0.1},{"g":"HLA-DQA1","t":"MESO","v":-0.1},{"g":"HLA-DQA1","t":"OV","v":0.15},{"g":"HLA-DQA1","t":"PAAD","v":0},{"g":"HLA-DQA1","t":"PCPG","v":-0.08},{"g":"HLA-DQA1","t":"PRAD","v":-0.1},{"g":"HLA-DQA1","t":"READ","v":-0.15},{"g":"HLA-DQA1","t":"SARC","v":-0.08},{"g":"HLA-DQA1","t":"SKCM","v":-0.1},{"g":"HLA-DQA1","t":"STAD","v":-0.1},{"g":"HLA-DQA1","t":"TGCT","v":0.05},{"g":"HLA-DQA1","t":"THCA","v":-0.03},{"g":"HLA-DQA1","t":"UCEC","v":0.08},{"g":"HLA-DQA1","t":"UCS","v":0.05},{"g":"HLA-DQA1","t":"UVM","v":-0.25},
{"g":"HLA-DQA2","t":"ACC","v":-0.15},{"g":"HLA-DQA2","t":"BLCA","v":0.15},{"g":"HLA-DQA2","t":"BRCA","v":-0.05},{"g":"HLA-DQA2","t":"CESC","v":-0.03},{"g":"HLA-DQA2","t":"CHOL","v":0.05},{"g":"HLA-DQA2","t":"COAD","v":-0.15},{"g":"HLA-DQA2","t":"ESCA","v":-0.15},{"g":"HLA-DQA2","t":"GBM","v":0.1},{"g":"HLA-DQA2","t":"HNSC","v":0},{"g":"HLA-DQA2","t":"KICH","v":0.05},{"g":"HLA-DQA2","t":"KIRC","v":0.2},{"g":"HLA-DQA2","t":"KIRP","v":0},{"g":"HLA-DQA2","t":"LGG","v":-0.1},{"g":"HLA-DQA2","t":"LIHC","v":-0.1},{"g":"HLA-DQA2","t":"LUAD","v":-0.08},{"g":"HLA-DQA2","t":"LUSC","v":null},{"g":"HLA-DQA2","t":"MESO","v":0.08},{"g":"HLA-DQA2","t":"OV","v":0.2},{"g":"HLA-DQA2","t":"PAAD","v":-0.05},{"g":"HLA-DQA2","t":"PCPG","v":-0.05},{"g":"HLA-DQA2","t":"PRAD","v":0},{"g":"HLA-DQA2","t":"READ","v":-0.12},{"g":"HLA-DQA2","t":"SARC","v":0.1},{"g":"HLA-DQA2","t":"SKCM","v":-0.05},{"g":"HLA-DQA2","t":"STAD","v":-0.25},{"g":"HLA-DQA2","t":"TGCT","v":0.1},{"g":"HLA-DQA2","t":"THCA","v":-0.2},{"g":"HLA-DQA2","t":"UCEC","v":0.1},{"g":"HLA-DQA2","t":"UCS","v":0.1},{"g":"HLA-DQA2","t":"UVM","v":-0.25},
{"g":"HLA-DQB1","t":"ACC","v":0},{"g":"HLA-DQB1","t":"BLCA","v":0.3},{"g":"HLA-DQB1","t":"BRCA","v":0.05},{"g":"HLA-DQB1","t":"CESC","v":0.12},{"g":"HLA-DQB1","t":"CHOL","v":-0.03},{"g":"HLA-DQB1","t":"COAD","v":-0.15},{"g":"HLA-DQB1","t":"ESCA","v":0},{"g":"HLA-DQB1","t":"GBM","v":0},{"g":"HLA-DQB1","t":"HNSC","v":0.08},{"g":"HLA-DQB1","t":"KICH","v":0.03},{"g":"HLA-DQB1","t":"KIRC","v":0.1},{"g":"HLA-DQB1","t":"KIRP","v":0.15},{"g":"HLA-DQB1","t":"LGG","v":-0.12},{"g":"HLA-DQB1","t":"LIHC","v":0.05},{"g":"HLA-DQB1","t":"LUAD","v":-0.2},{"g":"HLA-DQB1","t":"LUSC","v":0.05},{"g":"HLA-DQB1","t":"MESO","v":-0.05},{"g":"HLA-DQB1","t":"OV","v":0.2},{"g":"HLA-DQB1","t":"PAAD","v":0},{"g":"HLA-DQB1","t":"PCPG","v":-0.03},{"g":"HLA-DQB1","t":"PRAD","v":0},{"g":"HLA-DQB1","t":"READ","v":-0.08},{"g":"HLA-DQB1","t":"SARC","v":0},{"g":"HLA-DQB1","t":"SKCM","v":-0.1},{"g":"HLA-DQB1","t":"STAD","v":-0.12},{"g":"HLA-DQB1","t":"TGCT","v":0},{"g":"HLA-DQB1","t":"THCA","v":0},{"g":"HLA-DQB1","t":"UCEC","v":-0.05},{"g":"HLA-DQB1","t":"UCS","v":0.05},{"g":"HLA-DQB1","t":"UVM","v":-0.2},
{"g":"HLA-DRA","t":"ACC","v":0.08},{"g":"HLA-DRA","t":"BLCA","v":0.33},{"g":"HLA-DRA","t":"BRCA","v":0},{"g":"HLA-DRA","t":"CESC","v":0.12},{"g":"HLA-DRA","t":"CHOL","v":0.1},{"g":"HLA-DRA","t":"COAD","v":-0.1},{"g":"HLA-DRA","t":"ESCA","v":-0.05},{"g":"HLA-DRA","t":"GBM","v":0.3},{"g":"HLA-DRA","t":"HNSC","v":0.05},{"g":"HLA-DRA","t":"KICH","v":0},{"g":"HLA-DRA","t":"KIRC","v":0.25},{"g":"HLA-DRA","t":"KIRP","v":0.25},{"g":"HLA-DRA","t":"LGG","v":-0.22},{"g":"HLA-DRA","t":"LIHC","v":-0.08},{"g":"HLA-DRA","t":"LUAD","v":-0.08},{"g":"HLA-DRA","t":"LUSC","v":0.15},{"g":"HLA-DRA","t":"MESO","v":0.05},{"g":"HLA-DRA","t":"OV","v":0.4},{"g":"HLA-DRA","t":"PAAD","v":0},{"g":"HLA-DRA","t":"PCPG","v":-0.08},{"g":"HLA-DRA","t":"PRAD","v":-0.03},{"g":"HLA-DRA","t":"READ","v":0.05},{"g":"HLA-DRA","t":"SARC","v":-0.05},{"g":"HLA-DRA","t":"SKCM","v":-0.03},{"g":"HLA-DRA","t":"STAD","v":-0.15},{"g":"HLA-DRA","t":"TGCT","v":0.1},{"g":"HLA-DRA","t":"THCA","v":-0.05},{"g":"HLA-DRA","t":"UCEC","v":0.15},{"g":"HLA-DRA","t":"UCS","v":0.2},{"g":"HLA-DRA","t":"UVM","v":-0.25},
{"g":"HLA-DRB1","t":"ACC","v":0.12},{"g":"HLA-DRB1","t":"BLCA","v":0.35},{"g":"HLA-DRB1","t":"BRCA","v":0.05},{"g":"HLA-DRB1","t":"CESC","v":0.2},{"g":"HLA-DRB1","t":"CHOL","v":0.12},{"g":"HLA-DRB1","t":"COAD","v":-0.12},{"g":"HLA-DRB1","t":"ESCA","v":0.05},{"g":"HLA-DRB1","t":"GBM","v":0.25},{"g":"HLA-DRB1","t":"HNSC","v":0.12},{"g":"HLA-DRB1","t":"KICH","v":-0.08},{"g":"HLA-DRB1","t":"KIRC","v":0.25},{"g":"HLA-DRB1","t":"KIRP","v":0.3},{"g":"HLA-DRB1","t":"LGG","v":-0.2},{"g":"HLA-DRB1","t":"LIHC","v":0.08},{"g":"HLA-DRB1","t":"LUAD","v":-0.15},{"g":"HLA-DRB1","t":"LUSC","v":0.05},{"g":"HLA-DRB1","t":"MESO","v":-0.05},{"g":"HLA-DRB1","t":"OV","v":0.4},{"g":"HLA-DRB1","t":"PAAD","v":0.03},{"g":"HLA-DRB1","t":"PCPG","v":0.03},{"g":"HLA-DRB1","t":"PRAD","v":0.05},{"g":"HLA-DRB1","t":"READ","v":-0.08},{"g":"HLA-DRB1","t":"SARC","v":0.05},{"g":"HLA-DRB1","t":"SKCM","v":-0.05},{"g":"HLA-DRB1","t":"STAD","v":-0.03},{"g":"HLA-DRB1","t":"TGCT","v":0.25},{"g":"HLA-DRB1","t":"THCA","v":0},{"g":"HLA-DRB1","t":"UCEC","v":0.2},{"g":"HLA-DRB1","t":"UCS","v":0.2},{"g":"HLA-DRB1","t":"UVM","v":-0.2},
{"g":"HLA-E","t":"ACC","v":-0.03},{"g":"HLA-E","t":"BLCA","v":0.3},{"g":"HLA-E","t":"BRCA","v":0.05},{"g":"HLA-E","t":"CESC","v":0.1},{"g":"HLA-E","t":"CHOL","v":0.2},{"g":"HLA-E","t":"COAD","v":-0.2},{"g":"HLA-E","t":"ESCA","v":0.08},{"g":"HLA-E","t":"GBM","v":0.03},{"g":"HLA-E","t":"HNSC","v":0.08},{"g":"HLA-E","t":"KICH","v":0.05},{"g":"HLA-E","t":"KIRC","v":-0.05},{"g":"HLA-E","t":"KIRP","v":0.15},{"g":"HLA-E","t":"LGG","v":-0.35},{"g":"HLA-E","t":"LIHC","v":0.05},{"g":"HLA-E","t":"LUAD","v":-0.1},{"g":"HLA-E","t":"LUSC","v":0.1},{"g":"HLA-E","t":"MESO","v":0.1},{"g":"HLA-E","t":"OV","v":0.2},{"g":"HLA-E","t":"PAAD","v":0},{"g":"HLA-E","t":"PCPG","v":-0.1},{"g":"HLA-E","t":"PRAD","v":-0.12},{"g":"HLA-E","t":"READ","v":-0.08},{"g":"HLA-E","t":"SARC","v":-0.05},{"g":"HLA-E","t":"SKCM","v":-0.3},{"g":"HLA-E","t":"STAD","v":0},{"g":"HLA-E","t":"TGCT","v":0.05},{"g":"HLA-E","t":"THCA","v":0.08},{"g":"HLA-E","t":"UCEC","v":0.25},{"g":"HLA-E","t":"UCS","v":0.3},{"g":"HLA-E","t":"UVM","v":-0.25},
{"g":"HLA-F","t":"ACC","v":-0.1},{"g":"HLA-F","t":"BLCA","v":0.35},{"g":"HLA-F","t":"BRCA","v":0.15},{"g":"HLA-F","t":"CESC","v":0.2},{"g":"HLA-F","t":"CHOL","v":0.22},{"g":"HLA-F","t":"COAD","v":-0.15},{"g":"HLA-F","t":"ESCA","v":0.05},{"g":"HLA-F","t":"GBM","v":0.1},{"g":"HLA-F","t":"HNSC","v":0.2},{"g":"HLA-F","t":"KICH","v":0},{"g":"HLA-F","t":"KIRC","v":0.2},{"g":"HLA-F","t":"KIRP","v":0.15},{"g":"HLA-F","t":"LGG","v":-0.12},{"g":"HLA-F","t":"LIHC","v":0.1},{"g":"HLA-F","t":"LUAD","v":0.15},{"g":"HLA-F","t":"LUSC","v":0.22},{"g":"HLA-F","t":"MESO","v":0.25},{"g":"HLA-F","t":"OV","v":0.25},{"g":"HLA-F","t":"PAAD","v":-0.05},{"g":"HLA-F","t":"PCPG","v":-0.08},{"g":"HLA-F","t":"PRAD","v":0},{"g":"HLA-F","t":"READ","v":0.2},{"g":"HLA-F","t":"SARC","v":-0.05},{"g":"HLA-F","t":"SKCM","v":-0.05},{"g":"HLA-F","t":"STAD","v":-0.03},{"g":"HLA-F","t":"TGCT","v":0.15},{"g":"HLA-F","t":"THCA","v":-0.05},{"g":"HLA-F","t":"UCEC","v":-0.05},{"g":"HLA-F","t":"UCS","v":0.05},{"g":"HLA-F","t":"UVM","v":-0.1},
{"g":"HLA-G","t":"ACC","v":-0.12},{"g":"HLA-G","t":"BLCA","v":0.15},{"g":"HLA-G","t":"BRCA","v":0.08},{"g":"HLA-G","t":"CESC","v":0.08},{"g":"HLA-G","t":"CHOL","v":0.08},{"g":"HLA-G","t":"COAD","v":-0.1},{"g":"HLA-G","t":"ESCA","v":0.05},{"g":"HLA-G","t":"GBM","v":-0.03},{"g":"HLA-G","t":"HNSC","v":0},{"g":"HLA-G","t":"KICH","v":0.12},{"g":"HLA-G","t":"KIRC","v":0.15},{"g":"HLA-G","t":"KIRP","v":0.15},{"g":"HLA-G","t":"LGG","v":-0.15},{"g":"HLA-G","t":"LIHC","v":0},{"g":"HLA-G","t":"LUAD","v":0.05},{"g":"HLA-G","t":"LUSC","v":0.2},{"g":"HLA-G","t":"MESO","v":0.03},{"g":"HLA-G","t":"OV","v":-0.08},{"g":"HLA-G","t":"PAAD","v":-0.12},{"g":"HLA-G","t":"PCPG","v":-0.03},{"g":"HLA-G","t":"PRAD","v":-0.15},{"g":"HLA-G","t":"READ","v":0.12},{"g":"HLA-G","t":"SARC","v":-0.05},{"g":"HLA-G","t":"SKCM","v":0},{"g":"HLA-G","t":"STAD","v":0.2},{"g":"HLA-G","t":"TGCT","v":0.1},{"g":"HLA-G","t":"THCA","v":-0.3},{"g":"HLA-G","t":"UCEC","v":0.1},{"g":"HLA-G","t":"UCS","v":0.1},{"g":"HLA-G","t":"UVM","v":-0.12},
{"g":"TAP1","t":"ACC","v":0.12},{"g":"TAP1","t":"BLCA","v":0.3},{"g":"TAP1","t":"BRCA","v":0.3},{"g":"TAP1","t":"CESC","v":0.15},{"g":"TAP1","t":"CHOL","v":0.15},{"g":"TAP1","t":"COAD","v":0},{"g":"TAP1","t":"ESCA","v":0.08},{"g":"TAP1","t":"GBM","v":-0.05},{"g":"TAP1","t":"HNSC","v":0.15},{"g":"TAP1","t":"KICH","v":-0.05},{"g":"TAP1","t":"KIRC","v":0.3},{"g":"TAP1","t":"KIRP","v":0.3},{"g":"TAP1","t":"LGG","v":-0.05},{"g":"TAP1","t":"LIHC","v":0},{"g":"TAP1","t":"LUAD","v":0.03},{"g":"TAP1","t":"LUSC","v":0.3},{"g":"TAP1","t":"MESO","v":0},{"g":"TAP1","t":"OV","v":0.3},{"g":"TAP1","t":"PAAD","v":0},{"g":"TAP1","t":"PCPG","v":0.1},{"g":"TAP1","t":"PRAD","v":-0.05},{"g":"TAP1","t":"READ","v":-0.03},{"g":"TAP1","t":"SARC","v":0.2},{"g":"TAP1","t":"SKCM","v":-0.15},{"g":"TAP1","t":"STAD","v":-0.08},{"g":"TAP1","t":"TGCT","v":0.1},{"g":"TAP1","t":"THCA","v":0.08},{"g":"TAP1","t":"UCEC","v":0.1},{"g":"TAP1","t":"UCS","v":0.25},{"g":"TAP1","t":"UVM","v":-0.15},
{"g":"TAP2","t":"ACC","v":0.3},{"g":"TAP2","t":"BLCA","v":0.38},{"g":"TAP2","t":"BRCA","v":0.3},{"g":"TAP2","t":"CESC","v":0.1},{"g":"TAP2","t":"CHOL","v":0.1},{"g":"TAP2","t":"COAD","v":-0.15},{"g":"TAP2","t":"ESCA","v":0.05},{"g":"TAP2","t":"GBM","v":-0.2},{"g":"TAP2","t":"HNSC","v":0.08},{"g":"TAP2","t":"KICH","v":-0.08},{"g":"TAP2","t":"KIRC","v":-0.08},{"g":"TAP2","t":"KIRP","v":0.1},{"g":"TAP2","t":"LGG","v":-0.05},{"g":"TAP2","t":"LIHC","v":0.08},{"g":"TAP2","t":"LUAD","v":-0.05},{"g":"TAP2","t":"LUSC","v":0.1},{"g":"TAP2","t":"MESO","v":0},{"g":"TAP2","t":"OV","v":0.05},{"g":"TAP2","t":"PAAD","v":-0.12},{"g":"TAP2","t":"PCPG","v":0.3},{"g":"TAP2","t":"PRAD","v":-0.05},{"g":"TAP2","t":"READ","v":-0.03},{"g":"TAP2","t":"SARC","v":0.05},{"g":"TAP2","t":"SKCM","v":0.12},{"g":"TAP2","t":"STAD","v":0.08},{"g":"TAP2","t":"TGCT","v":-0.2},{"g":"TAP2","t":"THCA","v":0},{"g":"TAP2","t":"UCEC","v":0.1},{"g":"TAP2","t":"UCS","v":0.35},{"g":"TAP2","t":"UVM","v":-0.05},
{"g":"TAPBP","t":"ACC","v":-0.3},{"g":"TAPBP","t":"BLCA","v":0.25},{"g":"TAPBP","t":"BRCA","v":0.12},{"g":"TAPBP","t":"CESC","v":0.3},{"g":"TAPBP","t":"CHOL","v":0.28},{"g":"TAPBP","t":"COAD","v":-0.22},{"g":"TAPBP","t":"ESCA","v":0},{"g":"TAPBP","t":"GBM","v":-0.3},{"g":"TAPBP","t":"HNSC","v":0.12},{"g":"TAPBP","t":"KICH","v":-0.12},{"g":"TAPBP","t":"KIRC","v":0.15},{"g":"TAPBP","t":"KIRP","v":-0.08},{"g":"TAPBP","t":"LGG","v":-0.15},{"g":"TAPBP","t":"LIHC","v":0.1},{"g":"TAPBP","t":"LUAD","v":-0.18},{"g":"TAPBP","t":"LUSC","v":0.1},{"g":"TAPBP","t":"MESO","v":0.2},{"g":"TAPBP","t":"OV","v":0.08},{"g":"TAPBP","t":"PAAD","v":-0.15},{"g":"TAPBP","t":"PCPG","v":-0.05},{"g":"TAPBP","t":"PRAD","v":0.08},{"g":"TAPBP","t":"READ","v":-0.3},{"g":"TAPBP","t":"SARC","v":0.08},{"g":"TAPBP","t":"SKCM","v":-0.05},{"g":"TAPBP","t":"STAD","v":-0.2},{"g":"TAPBP","t":"TGCT","v":-0.2},{"g":"TAPBP","t":"THCA","v":0.2},{"g":"TAPBP","t":"UCEC","v":-0.08},{"g":"TAPBP","t":"UCS","v":0.3},{"g":"TAPBP","t":"UVM","v":-0.4}
]
},
"hconcat": [
{
"width": 319, "height": 318,
"data": {"name": "chem"},
"encoding": {
"y": {"field": "g", "type": "nominal", "sort": null, "axis": {"title": "A", "titleAngle": 0, "titleX": -23, "titleY": -8, "titleAlign": "left", "titleBaseline": "alphabetic", "titleFontSize": 21, "titleFont": "Liberation Sans", "titleFontWeight": "bold", "titleColor": "#000", "labelFontSize": 7.5}}
},
"layer": [
{"mark": {"type": "rect", "color": "#e8e8e8"},
"encoding": {"x": {"field": "t", "type": "nominal", "sort": null, "axis": {"title": null, "labelAngle": -45, "labelAlign": "right", "labelBaseline": "middle", "labelFontSize": 7.5, "domain": true, "domainColor": "#999"}}}},
{"transform": [{"filter": "isValid(datum.v)"}], "mark": {"type": "rect"},
"encoding": {
"x": {"field": "t", "type": "nominal", "sort": null, "axis": {"orient": "top", "labels": false, "ticks": false, "domain": false, "title": "chemokines", "titleFontSize": 12, "titleFont": "Liberation Sans", "titleFontWeight": "bold", "titleColor": "#000", "titleY": -8, "titleBaseline": "alphabetic"}},
"color": {"field": "v", "type": "quantitative",
"scale": {"domain": [-1, 0, 1], "range": ["#0000ff", "#ffffff", "#ff0000"], "interpolate": "rgb"},
"legend": {"orient": "none", "legendX": 335, "legendY": 120, "direction": "vertical", "gradientLength": 85, "gradientThickness": 13, "gradientStrokeWidth": 0, "title": null, "values": [-1, 1], "labelAlign": "right", "labelOffset": -24, "labelFontSize": 9, "labelColor": "#444", "labelFont": "Liberation Sans"}}}}
],
"resolve": {"axis": {"x": "independent"}}
},
{
"width": 320, "height": 316,
"data": {"name": "mhc"},
"encoding": {
"y": {"field": "g", "type": "nominal", "sort": null, "axis": {"title": "B", "titleAngle": 0, "titleX": -35, "titleY": -6, "titleAlign": "left", "titleBaseline": "alphabetic", "titleFontSize": 21, "titleFont": "Liberation Sans", "titleFontWeight": "bold", "titleColor": "#000"}}
},
"layer": [
{"mark": {"type": "rect", "color": "#e8e8e8"},
"encoding": {"x": {"field": "t", "type": "nominal", "sort": null, "axis": {"title": null, "labelAngle": -45, "labelAlign": "right", "labelBaseline": "middle", "labelFontSize": 7.5, "domain": true, "domainColor": "#999"}}}},
{"transform": [{"filter": "isValid(datum.v)"}], "mark": {"type": "rect"},
"encoding": {
"x": {"field": "t", "type": "nominal", "sort": null, "axis": {"orient": "top", "labels": false, "ticks": false, "domain": false, "title": "MHCs", "titleFontSize": 12, "titleFont": "Liberation Sans", "titleFontWeight": "bold", "titleColor": "#000", "titleY": -6, "titleBaseline": "alphabetic"}},
"color": {"field": "v", "type": "quantitative",
"scale": {"domain": [-1, 0, 1], "range": ["#0000ff", "#ffffff", "#ff0000"], "interpolate": "rgb"},
"legend": {"orient": "none", "legendX": 338, "legendY": 117, "direction": "vertical", "gradientLength": 85, "gradientThickness": 12, "gradientStrokeWidth": 0, "title": null, "values": [-1, 0, 1], "labelAlign": "right", "labelOffset": -22, "labelFontSize": 9, "labelColor": "#444", "labelFont": "Liberation Sans"}}}},
{"transform": [{"filter": "datum.g === 'HLA-DQB1' && datum.t === 'PAAD'"}], "mark": {"type": "rect", "fill": "#ffffff", "stroke": "#9a9a9a", "strokeWidth": 1.5, "cornerRadius": 2},
"encoding": {"x": {"field": "t", "type": "nominal", "sort": null, "axis": null}}}
],
"resolve": {"axis": {"x": "independent"}}
}
],
"resolve": {"scale": {"color": "independent"}, "legend": {"color": "independent"}},
"config": {
"view": {"stroke": null},
"axis": {"labelFont": "Liberation Sans", "labelFontSize": 8, "labelColor": "#555", "tickColor": "#999", "tickSize": 2.5, "domain": false, "labelPadding": 1, "labelOverlap": false, "grid": false}
}
}
